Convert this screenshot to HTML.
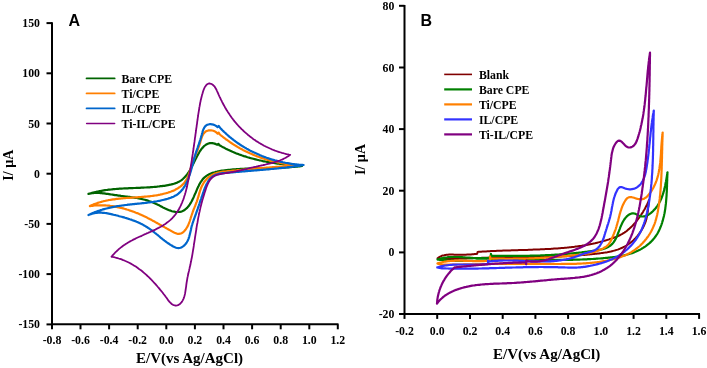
<!DOCTYPE html><html><head><meta charset="utf-8"><style>html,body{margin:0;padding:0;background:#fff;}svg{display:block;will-change:transform;filter:blur(0.3px);}</style></head><body>
<svg width="707" height="368" viewBox="0 0 707 368">
<rect width="707" height="368" fill="#fff"/>
<g stroke="#000" stroke-width="2" fill="none" stroke-linecap="butt">
<line x1="52.0" y1="22.3" x2="52.0" y2="325.35"/>
<line x1="51.0" y1="324.35" x2="338.5" y2="324.35"/>
<line x1="46.5" y1="23.1" x2="52.0" y2="23.1"/>
<line x1="46.5" y1="73.3" x2="52.0" y2="73.3"/>
<line x1="46.5" y1="123.5" x2="52.0" y2="123.5"/>
<line x1="46.5" y1="173.7" x2="52.0" y2="173.7"/>
<line x1="46.5" y1="223.9" x2="52.0" y2="223.9"/>
<line x1="46.5" y1="274.1" x2="52.0" y2="274.1"/>
<line x1="46.5" y1="324.4" x2="52.0" y2="324.4"/>
<line x1="52.0" y1="324.35" x2="52.0" y2="329.3"/>
<line x1="80.5" y1="324.35" x2="80.5" y2="329.3"/>
<line x1="109.1" y1="324.35" x2="109.1" y2="329.3"/>
<line x1="137.7" y1="324.35" x2="137.7" y2="329.3"/>
<line x1="166.3" y1="324.35" x2="166.3" y2="329.3"/>
<line x1="194.9" y1="324.35" x2="194.9" y2="329.3"/>
<line x1="223.5" y1="324.35" x2="223.5" y2="329.3"/>
<line x1="252.1" y1="324.35" x2="252.1" y2="329.3"/>
<line x1="280.7" y1="324.35" x2="280.7" y2="329.3"/>
<line x1="309.3" y1="324.35" x2="309.3" y2="329.3"/>
<line x1="337.8" y1="324.35" x2="337.8" y2="329.3"/>
</g>
<g font-family='"Liberation Serif", serif' font-weight="bold" font-size="11.8" fill="#000">
<text x="40" y="27.1" text-anchor="end">150</text>
<text x="40" y="77.3" text-anchor="end">100</text>
<text x="40" y="127.5" text-anchor="end">50</text>
<text x="40" y="177.7" text-anchor="end">0</text>
<text x="40" y="227.9" text-anchor="end">-50</text>
<text x="40" y="278.1" text-anchor="end">-100</text>
<text x="40" y="328.4" text-anchor="end">-150</text>
<text x="52.0" y="343.7" text-anchor="middle">-0.8</text>
<text x="80.5" y="343.7" text-anchor="middle">-0.6</text>
<text x="109.1" y="343.7" text-anchor="middle">-0.4</text>
<text x="137.7" y="343.7" text-anchor="middle">-0.2</text>
<text x="166.3" y="343.7" text-anchor="middle">0.0</text>
<text x="194.9" y="343.7" text-anchor="middle">0.2</text>
<text x="223.5" y="343.7" text-anchor="middle">0.4</text>
<text x="252.1" y="343.7" text-anchor="middle">0.6</text>
<text x="280.7" y="343.7" text-anchor="middle">0.8</text>
<text x="309.3" y="343.7" text-anchor="middle">1.0</text>
<text x="337.8" y="343.7" text-anchor="middle">1.2</text>
</g>
<text x="189.5" y="363.3" text-anchor="middle" font-family='"Liberation Serif", serif' font-weight="bold" font-size="15">E/V(vs Ag/AgCl)</text>
<text transform="translate(13.2,165.2) rotate(-90)" text-anchor="middle" font-family='"Liberation Serif", serif' font-weight="bold" font-size="14">I/ µA</text>
<text x="68.6" y="25.7" font-family='"Liberation Sans", sans-serif' font-weight="bold" font-size="16">A</text>
<line x1="86.6" y1="78.4" x2="114.6" y2="78.4" stroke="#006400" stroke-width="1.9" stroke-linecap="round"/>
<text x="121.5" y="82.6" font-family='"Liberation Serif", serif' font-weight="bold" font-size="11.8">Bare CPE</text>
<line x1="86.6" y1="93.4" x2="114.6" y2="93.4" stroke="#ff7f00" stroke-width="1.9" stroke-linecap="round"/>
<text x="121.5" y="97.6" font-family='"Liberation Serif", serif' font-weight="bold" font-size="11.8">Ti/CPE</text>
<line x1="86.6" y1="108.4" x2="114.6" y2="108.4" stroke="#0066cc" stroke-width="1.9" stroke-linecap="round"/>
<text x="121.5" y="112.6" font-family='"Liberation Serif", serif' font-weight="bold" font-size="11.8">IL/CPE</text>
<line x1="86.6" y1="123.4" x2="114.6" y2="123.4" stroke="#800080" stroke-width="1.5" stroke-linecap="round"/>
<text x="121.5" y="127.6" font-family='"Liberation Serif", serif' font-weight="bold" font-size="11.8">Ti-IL/CPE</text>
<path d="M88.5,193.9 L89.7,193.5 L90.8,193.2 L92.0,192.9 L93.2,192.6 L94.3,192.3 L95.5,192.0 L96.7,191.7 L97.9,191.5 L99.1,191.2 L100.2,191.0 L101.4,190.8 L102.6,190.6 L103.8,190.4 L105.0,190.2 L106.2,190.0 L107.4,189.9 L108.6,189.7 L109.8,189.6 L111.0,189.5 L112.2,189.3 L113.3,189.2 L114.5,189.1 L115.8,189.0 L117.0,188.9 L118.2,188.8 L119.4,188.7 L120.6,188.7 L121.8,188.6 L123.0,188.5 L124.2,188.4 L125.4,188.4 L126.6,188.3 L127.8,188.3 L129.0,188.2 L130.2,188.2 L131.5,188.1 L132.7,188.1 L133.9,188.0 L135.1,188.0 L136.3,187.9 L137.5,187.9 L138.7,187.8 L140.0,187.8 L141.2,187.7 L142.4,187.7 L143.6,187.6 L144.8,187.5 L146.0,187.5 L147.3,187.4 L148.5,187.3 L149.7,187.3 L150.9,187.2 L152.1,187.1 L153.4,187.0 L154.6,186.9 L155.8,186.8 L157.0,186.7 L158.2,186.5 L159.4,186.4 L160.6,186.2 L161.9,186.1 L163.1,185.9 L164.3,185.8 L165.5,185.6 L166.7,185.4 L167.9,185.2 L169.1,184.9 L170.3,184.7 L171.5,184.4 L172.7,184.1 L173.8,183.8 L175.0,183.4 L176.1,183.0 L177.2,182.6 L178.2,182.1 L179.3,181.5 L180.3,180.9 L181.2,180.3 L182.2,179.6 L183.1,178.8 L183.9,178.0 L184.8,177.1 L185.6,176.2 L186.4,175.3 L187.1,174.4 L187.8,173.4 L188.5,172.4 L189.2,171.3 L189.9,170.3 L190.5,169.2 L191.1,168.1 L191.7,167.0 L192.2,165.9 L192.8,164.8 L193.3,163.7 L193.9,162.6 L194.4,161.5 L195.0,160.4 L195.5,159.3 L196.1,158.2 L196.6,157.1 L197.2,156.0 L197.8,154.9 L198.3,153.9 L199.0,152.8 L199.6,151.8 L200.2,150.8 L200.9,149.8 L201.6,148.9 L202.4,147.9 L203.2,147.1 L204.0,146.2 L204.9,145.5 L205.8,144.8 L206.8,144.3 L207.8,143.8 L208.8,143.4 L209.9,143.2 L211.0,143.1 L212.2,143.1 L213.4,143.3 L214.6,143.6 L215.9,144.1 L217.2,144.8 L218.3,143.8 L219.4,145.2 L220.5,145.8 L221.5,146.4 L222.6,147.0 L223.7,147.6 L224.8,148.1 L225.9,148.7 L227.0,149.2 L228.1,149.8 L229.2,150.3 L230.3,150.8 L231.4,151.3 L232.5,151.8 L233.6,152.2 L234.8,152.7 L235.9,153.2 L237.0,153.6 L238.2,154.0 L239.3,154.5 L240.5,154.9 L241.6,155.3 L242.8,155.7 L243.9,156.1 L245.1,156.4 L246.3,156.8 L247.4,157.2 L248.6,157.5 L249.8,157.9 L251.0,158.2 L252.2,158.5 L253.3,158.8 L254.5,159.1 L255.7,159.4 L256.9,159.7 L258.1,160.0 L259.3,160.3 L260.5,160.5 L261.7,160.8 L262.9,161.1 L264.1,161.3 L265.3,161.5 L266.6,161.8 L267.8,162.0 L269.0,162.2 L270.2,162.4 L271.4,162.6 L272.6,162.8 L273.9,163.0 L275.1,163.2 L276.3,163.4 L277.5,163.6 L278.7,163.7 L280.0,163.9 L281.2,164.0 L282.4,164.2 L283.6,164.3 L284.9,164.5 L286.1,164.6 L287.3,164.7 L288.5,164.9 L289.8,165.0 L291.0,165.1 L292.2,165.2 L293.4,165.3 L294.7,165.4 L295.9,165.5 L297.1,165.6 L298.3,165.7 L299.6,165.8 L300.8,165.9 L302.0,166.0 L300.8,166.2 L299.6,166.3 L298.3,166.4 L297.1,166.6 L295.9,166.7 L294.7,166.8 L293.5,166.9 L292.2,167.0 L291.0,167.1 L289.8,167.2 L288.6,167.3 L287.4,167.4 L286.2,167.5 L285.0,167.6 L283.8,167.6 L282.6,167.7 L281.4,167.7 L280.2,167.8 L279.0,167.8 L277.8,167.9 L276.6,167.9 L275.4,168.0 L274.2,168.0 L273.0,168.0 L271.8,168.1 L270.6,168.1 L269.4,168.1 L268.1,168.2 L266.9,168.2 L265.7,168.2 L264.5,168.2 L263.3,168.2 L262.1,168.3 L260.9,168.3 L259.7,168.3 L258.5,168.3 L257.3,168.4 L256.1,168.4 L254.9,168.4 L253.7,168.4 L252.5,168.5 L251.3,168.5 L250.1,168.5 L248.9,168.6 L247.7,168.6 L246.5,168.7 L245.2,168.7 L244.0,168.8 L242.8,168.8 L241.6,168.9 L240.4,168.9 L239.2,169.0 L237.9,169.1 L236.7,169.2 L235.5,169.3 L234.3,169.3 L233.0,169.4 L231.8,169.5 L230.6,169.7 L229.3,169.8 L228.1,169.9 L226.9,170.0 L225.6,170.2 L224.4,170.3 L223.2,170.5 L221.9,170.7 L220.7,170.9 L219.5,171.1 L218.3,171.3 L217.1,171.6 L215.9,171.8 L214.8,172.2 L213.6,172.5 L212.5,172.9 L211.4,173.3 L210.3,173.7 L209.3,174.2 L208.3,174.8 L207.3,175.3 L206.4,176.0 L205.5,176.6 L204.6,177.3 L203.8,178.1 L203.0,178.9 L202.3,179.8 L201.6,180.8 L201.0,181.7 L200.3,182.7 L199.7,183.8 L199.1,184.9 L198.6,186.0 L198.0,187.1 L197.5,188.2 L197.0,189.4 L196.5,190.6 L196.0,191.8 L195.5,193.0 L194.9,194.2 L194.4,195.4 L193.9,196.6 L193.4,197.7 L192.8,198.9 L192.3,200.1 L191.7,201.2 L191.1,202.3 L190.4,203.4 L189.8,204.4 L189.1,205.5 L188.3,206.4 L187.6,207.3 L186.8,208.2 L185.9,208.9 L185.0,209.6 L184.1,210.3 L183.2,210.8 L182.2,211.2 L181.1,211.6 L180.0,211.8 L178.9,212.0 L177.7,212.0 L176.5,212.0 L175.4,211.9 L174.2,211.7 L173.1,211.5 L171.9,211.2 L170.8,210.8 L169.7,210.4 L168.5,210.0 L167.4,209.5 L166.3,209.0 L165.2,208.5 L164.1,207.9 L162.9,207.4 L161.8,206.8 L160.7,206.2 L159.6,205.6 L158.5,205.1 L157.4,204.5 L156.2,204.0 L155.1,203.4 L154.0,202.9 L152.8,202.5 L151.7,202.0 L150.6,201.6 L149.4,201.2 L148.3,200.8 L147.1,200.4 L146.0,200.1 L144.8,199.8 L143.6,199.5 L142.5,199.2 L141.3,198.9 L140.1,198.7 L138.9,198.5 L137.8,198.2 L136.6,198.0 L135.4,197.8 L134.2,197.6 L133.0,197.5 L131.8,197.3 L130.6,197.1 L129.4,196.9 L128.2,196.8 L127.0,196.6 L125.8,196.5 L124.6,196.3 L123.4,196.2 L122.2,196.0 L121.0,195.9 L119.8,195.7 L118.6,195.6 L117.4,195.4 L116.2,195.2 L115.0,195.1 L113.8,194.9 L112.6,194.7 L111.4,194.5 L110.2,194.3 L109.0,194.1 L107.8,193.9 L106.6,193.8 L105.4,193.6 L104.1,193.4 L102.9,193.3 L101.7,193.2 L100.5,193.1 L99.3,193.0 L98.1,193.0 L96.9,193.0 L95.7,193.0 L94.5,193.0 L93.3,193.1 L92.1,193.2 L90.9,193.4 L89.7,193.6 L88.5,193.9" fill="none" stroke="#006400" stroke-width="2.2" stroke-linejoin="round" stroke-linecap="round"/>
<path d="M89.9,206.1 L91.0,205.6 L92.1,205.1 L93.3,204.6 L94.4,204.1 L95.5,203.7 L96.7,203.3 L97.8,202.9 L98.9,202.5 L100.1,202.2 L101.3,201.9 L102.4,201.5 L103.6,201.2 L104.7,201.0 L105.9,200.7 L107.1,200.5 L108.3,200.2 L109.5,200.0 L110.6,199.8 L111.8,199.6 L113.0,199.4 L114.2,199.3 L115.4,199.1 L116.6,198.9 L117.8,198.8 L119.0,198.7 L120.2,198.6 L121.4,198.4 L122.6,198.3 L123.8,198.2 L125.1,198.1 L126.3,198.0 L127.5,197.9 L128.7,197.9 L129.9,197.8 L131.1,197.7 L132.3,197.6 L133.6,197.5 L134.8,197.5 L136.0,197.4 L137.2,197.3 L138.4,197.2 L139.6,197.1 L140.9,197.0 L142.1,196.9 L143.3,196.8 L144.5,196.7 L145.7,196.6 L146.9,196.5 L148.1,196.4 L149.3,196.3 L150.5,196.1 L151.7,196.0 L152.9,195.8 L154.1,195.6 L155.3,195.5 L156.5,195.3 L157.7,195.1 L158.9,194.8 L160.1,194.6 L161.3,194.3 L162.5,194.1 L163.6,193.8 L164.8,193.5 L166.0,193.2 L167.1,192.9 L168.3,192.5 L169.4,192.1 L170.6,191.7 L171.7,191.3 L172.8,190.9 L173.9,190.4 L175.0,189.9 L176.0,189.3 L177.0,188.8 L178.0,188.2 L179.0,187.5 L180.0,186.9 L180.9,186.2 L181.8,185.4 L182.6,184.6 L183.4,183.8 L184.2,182.9 L184.9,182.0 L185.6,181.0 L186.2,180.0 L186.8,179.0 L187.4,177.9 L187.9,176.7 L188.4,175.6 L188.8,174.4 L189.2,173.2 L189.7,171.9 L190.0,170.7 L190.4,169.5 L190.8,168.2 L191.2,167.0 L191.5,165.8 L191.9,164.6 L192.3,163.4 L192.7,162.3 L193.1,161.1 L193.6,160.0 L194.0,158.9 L194.4,157.8 L194.9,156.8 L195.3,155.7 L195.7,154.6 L196.2,153.6 L196.6,152.5 L197.1,151.4 L197.5,150.4 L197.9,149.3 L198.3,148.1 L198.7,147.0 L199.1,145.9 L199.5,144.7 L199.9,143.5 L200.3,142.2 L200.6,141.0 L201.0,139.7 L201.4,138.5 L201.8,137.3 L202.2,136.1 L202.8,135.0 L203.3,134.0 L204.0,133.1 L204.8,132.3 L205.6,131.6 L206.6,131.1 L207.6,130.7 L208.7,130.4 L209.8,130.3 L211.0,130.3 L212.2,130.5 L213.3,130.8 L214.5,131.3 L215.6,131.9 L216.6,132.7 L217.6,133.6 L218.6,132.6 L219.6,134.2 L220.5,135.0 L221.5,135.8 L222.4,136.5 L223.4,137.3 L224.4,138.0 L225.3,138.8 L226.3,139.5 L227.3,140.2 L228.3,140.9 L229.3,141.6 L230.3,142.3 L231.3,143.0 L232.3,143.7 L233.4,144.4 L234.4,145.0 L235.4,145.6 L236.5,146.3 L237.5,146.9 L238.6,147.5 L239.6,148.1 L240.7,148.7 L241.8,149.3 L242.9,149.9 L243.9,150.4 L245.0,151.0 L246.1,151.5 L247.2,152.1 L248.3,152.6 L249.4,153.1 L250.5,153.6 L251.7,154.1 L252.8,154.6 L253.9,155.0 L255.0,155.5 L256.2,155.9 L257.3,156.4 L258.4,156.8 L259.6,157.2 L260.7,157.6 L261.9,158.0 L263.0,158.4 L264.2,158.8 L265.4,159.2 L266.5,159.5 L267.7,159.9 L268.9,160.2 L270.0,160.6 L271.2,160.9 L272.4,161.2 L273.6,161.5 L274.8,161.8 L276.0,162.0 L277.2,162.3 L278.4,162.5 L279.6,162.8 L280.8,163.0 L282.0,163.2 L283.2,163.4 L284.4,163.6 L285.6,163.8 L286.8,164.0 L288.0,164.2 L289.2,164.3 L290.4,164.5 L291.7,164.6 L292.9,164.7 L294.1,164.9 L295.3,165.0 L296.6,165.0 L297.8,165.1 L299.0,165.2 L297.8,165.3 L296.6,165.4 L295.4,165.5 L294.2,165.6 L293.0,165.7 L291.8,165.8 L290.6,165.9 L289.4,166.0 L288.2,166.0 L287.0,166.1 L285.8,166.2 L284.6,166.3 L283.4,166.4 L282.2,166.5 L281.0,166.6 L279.8,166.7 L278.5,166.8 L277.3,166.9 L276.1,166.9 L274.9,167.0 L273.7,167.1 L272.5,167.2 L271.3,167.3 L270.1,167.4 L268.9,167.5 L267.7,167.6 L266.5,167.7 L265.3,167.8 L264.1,167.9 L262.9,168.0 L261.7,168.1 L260.5,168.2 L259.3,168.3 L258.1,168.4 L256.9,168.5 L255.7,168.6 L254.5,168.7 L253.3,168.8 L252.1,168.9 L250.9,169.0 L249.7,169.1 L248.5,169.2 L247.3,169.3 L246.1,169.4 L244.9,169.5 L243.7,169.6 L242.5,169.8 L241.3,169.9 L240.1,170.0 L238.9,170.1 L237.7,170.2 L236.5,170.4 L235.3,170.5 L234.1,170.6 L232.9,170.7 L231.7,170.8 L230.5,171.0 L229.3,171.1 L228.0,171.2 L226.8,171.3 L225.6,171.5 L224.4,171.6 L223.2,171.7 L222.0,171.9 L220.8,172.1 L219.6,172.3 L218.4,172.6 L217.3,172.9 L216.1,173.2 L215.0,173.6 L213.9,174.0 L212.8,174.6 L211.8,175.1 L210.8,175.7 L209.8,176.4 L208.8,177.2 L207.9,177.9 L207.0,178.8 L206.2,179.6 L205.4,180.6 L204.6,181.5 L203.9,182.5 L203.3,183.5 L202.7,184.6 L202.1,185.6 L201.6,186.7 L201.1,187.8 L200.7,189.0 L200.3,190.1 L199.9,191.2 L199.6,192.4 L199.2,193.6 L198.9,194.7 L198.6,195.9 L198.2,197.1 L197.9,198.2 L197.5,199.4 L197.1,200.5 L196.8,201.6 L196.3,202.7 L195.9,203.8 L195.5,204.9 L195.1,206.0 L194.6,207.1 L194.2,208.2 L193.7,209.3 L193.3,210.4 L192.9,211.5 L192.5,212.7 L192.1,213.8 L191.7,215.0 L191.3,216.2 L190.9,217.3 L190.6,218.5 L190.2,219.7 L189.8,221.0 L189.4,222.2 L188.9,223.4 L188.4,224.6 L187.9,225.8 L187.3,226.9 L186.6,228.0 L185.9,229.1 L185.2,230.1 L184.4,231.0 L183.6,231.8 L182.8,232.5 L181.9,233.0 L180.9,233.5 L180.0,233.7 L178.9,233.9 L177.9,233.8 L176.8,233.6 L175.8,233.2 L174.6,232.7 L173.5,232.2 L172.4,231.6 L171.3,231.0 L170.2,230.4 L169.1,229.8 L168.1,229.2 L167.0,228.6 L165.9,228.0 L164.8,227.4 L163.8,226.8 L162.7,226.2 L161.7,225.6 L160.6,225.0 L159.6,224.5 L158.6,223.9 L157.5,223.3 L156.5,222.7 L155.4,222.1 L154.4,221.5 L153.3,220.9 L152.3,220.4 L151.2,219.8 L150.2,219.3 L149.1,218.7 L148.1,218.2 L147.0,217.6 L145.9,217.1 L144.8,216.6 L143.7,216.0 L142.6,215.5 L141.5,215.0 L140.4,214.5 L139.3,214.1 L138.2,213.6 L137.1,213.1 L136.0,212.7 L134.8,212.2 L133.7,211.8 L132.5,211.4 L131.4,211.0 L130.2,210.6 L129.1,210.2 L127.9,209.8 L126.8,209.5 L125.6,209.1 L124.4,208.8 L123.2,208.4 L122.1,208.1 L120.9,207.8 L119.7,207.6 L118.5,207.3 L117.3,207.1 L116.2,206.8 L115.0,206.6 L113.8,206.4 L112.6,206.2 L111.4,206.0 L110.2,205.9 L109.0,205.7 L107.8,205.6 L106.6,205.5 L105.4,205.4 L104.2,205.4 L103.0,205.3 L101.8,205.3 L100.6,205.3 L99.4,205.3 L98.2,205.3 L97.0,205.4 L95.8,205.4 L94.6,205.5 L93.5,205.6 L92.3,205.8 L91.1,205.9 L89.9,206.1" fill="none" stroke="#ff7f00" stroke-width="2.2" stroke-linejoin="round" stroke-linecap="round"/>
<path d="M88.5,215.0 L89.6,214.5 L90.6,214.0 L91.7,213.5 L92.8,213.0 L93.9,212.6 L95.1,212.1 L96.2,211.7 L97.3,211.3 L98.4,210.9 L99.6,210.5 L100.7,210.1 L101.9,209.8 L103.0,209.4 L104.2,209.1 L105.4,208.8 L106.6,208.5 L107.7,208.2 L108.9,207.9 L110.1,207.6 L111.3,207.4 L112.5,207.1 L113.7,206.9 L114.9,206.7 L116.1,206.4 L117.3,206.2 L118.5,206.0 L119.7,205.8 L120.9,205.7 L122.1,205.5 L123.3,205.3 L124.5,205.2 L125.7,205.0 L126.9,204.9 L128.1,204.7 L129.3,204.6 L130.5,204.4 L131.7,204.3 L132.9,204.2 L134.1,204.1 L135.3,203.9 L136.5,203.8 L137.7,203.7 L138.9,203.6 L140.1,203.5 L141.3,203.3 L142.5,203.2 L143.7,203.1 L144.9,203.0 L146.1,202.8 L147.3,202.7 L148.5,202.5 L149.7,202.4 L150.9,202.2 L152.1,202.0 L153.3,201.9 L154.5,201.7 L155.6,201.5 L156.8,201.3 L158.0,201.0 L159.2,200.8 L160.4,200.6 L161.6,200.3 L162.8,200.0 L164.0,199.7 L165.3,199.4 L166.5,199.1 L167.7,198.8 L168.8,198.4 L170.0,198.0 L171.2,197.6 L172.3,197.1 L173.4,196.7 L174.5,196.1 L175.5,195.6 L176.5,195.0 L177.5,194.3 L178.4,193.6 L179.2,192.9 L180.1,192.1 L180.9,191.3 L181.6,190.4 L182.4,189.6 L183.1,188.6 L183.7,187.7 L184.4,186.7 L185.0,185.7 L185.5,184.7 L186.1,183.6 L186.6,182.6 L187.1,181.5 L187.6,180.4 L188.1,179.2 L188.5,178.1 L188.9,176.9 L189.4,175.7 L189.8,174.6 L190.1,173.4 L190.5,172.2 L190.9,170.9 L191.2,169.7 L191.5,168.5 L191.9,167.3 L192.2,166.1 L192.5,164.8 L192.9,163.6 L193.2,162.4 L193.5,161.2 L193.8,160.0 L194.1,158.8 L194.5,157.7 L194.8,156.5 L195.1,155.3 L195.5,154.2 L195.8,153.1 L196.2,152.0 L196.5,150.9 L196.9,149.8 L197.3,148.7 L197.7,147.6 L198.0,146.5 L198.4,145.4 L198.8,144.3 L199.2,143.2 L199.5,142.1 L199.9,141.0 L200.3,139.8 L200.6,138.7 L201.0,137.5 L201.3,136.3 L201.7,135.1 L202.0,133.8 L202.4,132.6 L202.7,131.3 L203.1,130.1 L203.6,128.9 L204.1,127.9 L204.8,126.9 L205.5,126.0 L206.3,125.4 L207.3,124.8 L208.4,124.5 L209.5,124.2 L210.7,124.2 L211.9,124.3 L213.2,124.6 L214.4,125.0 L215.5,125.6 L216.6,126.3 L217.5,127.1 L218.7,126.0 L219.9,127.6 L220.7,128.5 L221.6,129.4 L222.4,130.3 L223.3,131.1 L224.2,132.0 L225.1,132.8 L226.0,133.6 L226.9,134.5 L227.8,135.3 L228.7,136.1 L229.6,136.9 L230.6,137.6 L231.5,138.4 L232.5,139.2 L233.4,139.9 L234.4,140.6 L235.4,141.4 L236.4,142.1 L237.4,142.8 L238.4,143.5 L239.4,144.2 L240.4,144.8 L241.4,145.5 L242.4,146.1 L243.5,146.8 L244.5,147.4 L245.6,148.0 L246.6,148.6 L247.7,149.2 L248.7,149.8 L249.8,150.4 L250.9,150.9 L252.0,151.5 L253.1,152.0 L254.2,152.6 L255.3,153.1 L256.4,153.6 L257.5,154.1 L258.6,154.6 L259.7,155.1 L260.8,155.5 L262.0,156.0 L263.1,156.4 L264.3,156.9 L265.4,157.3 L266.5,157.7 L267.7,158.1 L268.9,158.5 L270.0,158.9 L271.2,159.2 L272.4,159.6 L273.5,159.9 L274.7,160.3 L275.9,160.6 L277.1,160.9 L278.2,161.2 L279.4,161.5 L280.6,161.8 L281.8,162.0 L283.0,162.3 L284.2,162.5 L285.4,162.8 L286.6,163.0 L287.8,163.2 L289.0,163.4 L290.2,163.6 L291.4,163.8 L292.7,164.0 L293.9,164.1 L295.1,164.3 L296.3,164.4 L297.5,164.5 L298.7,164.7 L299.9,164.8 L301.2,164.8 L302.4,164.9 L303.6,165.0 L302.4,165.2 L301.2,165.4 L300.0,165.6 L298.9,165.8 L297.7,165.9 L296.5,166.1 L295.3,166.3 L294.1,166.5 L292.9,166.6 L291.7,166.8 L290.5,166.9 L289.3,167.1 L288.1,167.2 L286.9,167.4 L285.7,167.5 L284.5,167.7 L283.3,167.8 L282.0,167.9 L280.8,168.1 L279.6,168.2 L278.4,168.3 L277.2,168.5 L276.0,168.6 L274.8,168.7 L273.6,168.8 L272.4,168.9 L271.1,169.0 L269.9,169.2 L268.7,169.3 L267.5,169.4 L266.3,169.5 L265.1,169.6 L263.9,169.7 L262.7,169.8 L261.5,169.9 L260.3,170.0 L259.1,170.1 L257.9,170.2 L256.7,170.3 L255.5,170.4 L254.3,170.5 L253.1,170.6 L251.9,170.7 L250.7,170.8 L249.5,170.9 L248.3,171.0 L247.1,171.1 L245.9,171.2 L244.8,171.3 L243.6,171.4 L242.4,171.5 L241.2,171.6 L240.0,171.7 L238.8,171.8 L237.6,171.9 L236.4,172.0 L235.2,172.1 L234.0,172.2 L232.7,172.3 L231.5,172.4 L230.3,172.5 L229.0,172.6 L227.8,172.7 L226.5,172.8 L225.2,173.0 L223.9,173.1 L222.7,173.2 L221.4,173.4 L220.2,173.6 L219.0,173.9 L217.8,174.2 L216.6,174.5 L215.5,174.9 L214.4,175.4 L213.4,175.9 L212.5,176.6 L211.6,177.3 L210.8,178.0 L210.0,178.8 L209.3,179.7 L208.6,180.7 L208.0,181.6 L207.4,182.7 L206.8,183.7 L206.2,184.8 L205.7,186.0 L205.2,187.1 L204.8,188.3 L204.3,189.4 L203.9,190.6 L203.5,191.8 L203.1,193.0 L202.7,194.1 L202.3,195.3 L201.9,196.5 L201.5,197.6 L201.1,198.8 L200.7,199.9 L200.3,201.0 L199.9,202.2 L199.6,203.3 L199.2,204.4 L198.8,205.6 L198.4,206.7 L198.0,207.8 L197.7,208.9 L197.3,210.0 L196.9,211.1 L196.5,212.2 L196.1,213.4 L195.7,214.5 L195.3,215.6 L194.9,216.7 L194.5,217.8 L194.1,218.9 L193.7,220.0 L193.3,221.2 L192.9,222.3 L192.5,223.5 L192.2,224.6 L191.8,225.8 L191.5,227.0 L191.2,228.2 L191.0,229.5 L190.7,230.7 L190.4,232.0 L190.1,233.2 L189.8,234.4 L189.5,235.6 L189.2,236.8 L188.8,238.0 L188.4,239.1 L187.9,240.2 L187.4,241.3 L186.8,242.3 L186.1,243.3 L185.4,244.2 L184.6,245.1 L183.7,245.9 L182.7,246.6 L181.7,247.2 L180.6,247.7 L179.5,248.0 L178.4,248.1 L177.2,248.0 L176.1,247.7 L175.0,247.3 L173.9,246.8 L172.8,246.2 L171.7,245.5 L170.6,244.9 L169.5,244.2 L168.5,243.5 L167.5,242.8 L166.5,242.1 L165.5,241.3 L164.5,240.6 L163.5,239.8 L162.5,239.1 L161.6,238.3 L160.6,237.6 L159.7,236.8 L158.8,236.0 L157.8,235.2 L156.9,234.5 L155.9,233.7 L155.0,233.0 L154.1,232.2 L153.1,231.5 L152.2,230.7 L151.2,230.0 L150.3,229.3 L149.3,228.6 L148.3,228.0 L147.3,227.3 L146.3,226.7 L145.3,226.1 L144.2,225.5 L143.2,224.9 L142.1,224.3 L141.0,223.8 L140.0,223.3 L138.9,222.8 L137.8,222.3 L136.6,221.8 L135.5,221.3 L134.4,220.9 L133.3,220.5 L132.1,220.1 L131.0,219.6 L129.8,219.3 L128.6,218.9 L127.5,218.5 L126.3,218.1 L125.1,217.8 L124.0,217.4 L122.8,217.1 L121.6,216.8 L120.4,216.5 L119.2,216.2 L118.1,215.8 L116.9,215.5 L115.7,215.2 L114.5,215.0 L113.3,214.7 L112.2,214.4 L111.0,214.1 L109.8,213.8 L108.7,213.6 L107.5,213.4 L106.3,213.2 L105.2,213.0 L104.0,212.9 L102.8,212.8 L101.6,212.7 L100.5,212.6 L99.3,212.6 L98.1,212.7 L96.9,212.8 L95.7,212.9 L94.5,213.1 L93.3,213.4 L92.1,213.7 L90.9,214.1 L89.7,214.5 L88.5,215.0" fill="none" stroke="#0066cc" stroke-width="2.2" stroke-linejoin="round" stroke-linecap="round"/>
<path d="M111.5,256.7 L112.3,255.7 L113.1,254.8 L114.0,253.9 L114.8,253.0 L115.6,252.1 L116.5,251.3 L117.4,250.5 L118.3,249.7 L119.1,248.9 L120.1,248.1 L121.0,247.4 L121.9,246.7 L122.8,246.0 L123.8,245.3 L124.7,244.7 L125.7,244.0 L126.7,243.4 L127.7,242.8 L128.7,242.2 L129.7,241.6 L130.8,241.0 L131.8,240.5 L132.8,239.9 L133.9,239.4 L135.0,238.9 L136.1,238.3 L137.2,237.8 L138.3,237.3 L139.4,236.8 L140.5,236.3 L141.7,235.8 L142.8,235.2 L143.9,234.7 L145.1,234.2 L146.2,233.7 L147.4,233.2 L148.5,232.7 L149.7,232.2 L150.8,231.7 L152.0,231.2 L153.1,230.6 L154.2,230.1 L155.3,229.6 L156.4,229.0 L157.5,228.4 L158.6,227.9 L159.7,227.3 L160.8,226.7 L161.8,226.1 L162.9,225.5 L163.9,224.8 L164.9,224.2 L165.9,223.5 L166.8,222.8 L167.8,222.1 L168.7,221.4 L169.6,220.6 L170.5,219.9 L171.3,219.1 L172.1,218.3 L172.9,217.4 L173.7,216.6 L174.4,215.7 L175.2,214.8 L175.9,213.9 L176.5,212.9 L177.2,212.0 L177.8,211.0 L178.4,210.0 L179.0,209.0 L179.5,208.0 L180.1,206.9 L180.6,205.9 L181.1,204.8 L181.6,203.7 L182.1,202.6 L182.5,201.5 L182.9,200.4 L183.4,199.3 L183.8,198.1 L184.1,197.0 L184.5,195.8 L184.9,194.7 L185.2,193.5 L185.6,192.3 L185.9,191.1 L186.2,189.9 L186.5,188.7 L186.8,187.5 L187.1,186.3 L187.3,185.1 L187.6,183.9 L187.8,182.6 L188.1,181.4 L188.3,180.2 L188.6,179.0 L188.8,177.8 L189.0,176.5 L189.3,175.3 L189.5,174.1 L189.7,172.9 L189.9,171.7 L190.1,170.5 L190.3,169.3 L190.5,168.0 L190.7,166.8 L190.9,165.6 L191.1,164.4 L191.3,163.3 L191.5,162.1 L191.7,160.9 L191.9,159.7 L192.0,158.5 L192.2,157.3 L192.4,156.1 L192.6,154.9 L192.8,153.7 L192.9,152.6 L193.1,151.4 L193.3,150.2 L193.5,149.0 L193.6,147.8 L193.8,146.7 L194.0,145.5 L194.1,144.3 L194.3,143.1 L194.5,141.9 L194.6,140.8 L194.8,139.6 L194.9,138.4 L195.1,137.2 L195.3,136.1 L195.4,134.9 L195.6,133.7 L195.8,132.5 L195.9,131.4 L196.1,130.2 L196.2,129.0 L196.4,127.8 L196.6,126.6 L196.7,125.5 L196.9,124.3 L197.1,123.1 L197.2,121.9 L197.4,120.7 L197.6,119.5 L197.7,118.3 L197.9,117.2 L198.1,116.0 L198.2,114.8 L198.4,113.6 L198.6,112.4 L198.8,111.2 L199.0,110.0 L199.2,108.8 L199.3,107.6 L199.6,106.4 L199.8,105.2 L200.0,104.0 L200.2,102.8 L200.5,101.6 L200.7,100.4 L201.0,99.2 L201.3,98.0 L201.6,96.8 L201.9,95.6 L202.2,94.4 L202.6,93.2 L202.9,92.0 L203.3,90.8 L203.7,89.7 L204.2,88.5 L204.7,87.4 L205.3,86.4 L206.0,85.4 L206.8,84.6 L207.7,84.0 L208.8,83.5 L209.9,83.5 L211.0,83.8 L212.0,84.3 L213.0,85.0 L213.9,85.8 L214.7,86.7 L215.3,87.7 L215.9,88.7 L216.5,89.8 L217.0,91.0 L217.5,92.1 L218.0,93.2 L218.5,94.4 L219.0,95.5 L219.5,96.6 L220.1,97.7 L220.6,98.8 L221.1,99.9 L221.7,101.0 L222.2,102.1 L222.8,103.2 L223.3,104.3 L223.9,105.3 L224.5,106.4 L225.1,107.5 L225.7,108.5 L226.3,109.5 L226.9,110.6 L227.6,111.6 L228.2,112.6 L228.9,113.6 L229.6,114.6 L230.2,115.6 L230.9,116.6 L231.6,117.6 L232.4,118.5 L233.1,119.5 L233.8,120.4 L234.6,121.4 L235.4,122.3 L236.1,123.2 L236.9,124.1 L237.7,125.0 L238.5,125.9 L239.4,126.8 L240.2,127.6 L241.0,128.5 L241.9,129.4 L242.8,130.2 L243.6,131.0 L244.5,131.8 L245.4,132.6 L246.3,133.4 L247.2,134.2 L248.1,135.0 L249.1,135.7 L250.0,136.5 L251.0,137.2 L251.9,137.9 L252.9,138.7 L253.9,139.4 L254.9,140.0 L255.8,140.7 L256.8,141.4 L257.9,142.0 L258.9,142.7 L259.9,143.3 L260.9,143.9 L262.0,144.5 L263.0,145.1 L264.1,145.7 L265.2,146.2 L266.2,146.8 L267.3,147.3 L268.4,147.8 L269.5,148.3 L270.6,148.8 L271.7,149.3 L272.8,149.7 L273.9,150.2 L275.0,150.6 L276.2,151.0 L277.3,151.4 L278.5,151.8 L279.6,152.2 L280.8,152.5 L281.9,152.9 L283.1,153.2 L284.3,153.5 L285.4,153.8 L286.6,154.1 L287.8,154.3 L289.0,154.6 L290.2,154.8 L289.2,155.5 L288.2,156.2 L287.2,156.8 L286.2,157.4 L285.2,158.0 L284.1,158.5 L283.0,159.1 L282.0,159.6 L280.9,160.0 L279.7,160.5 L278.6,160.9 L277.5,161.3 L276.3,161.7 L275.2,162.0 L274.0,162.4 L272.9,162.7 L271.7,163.1 L270.5,163.4 L269.3,163.7 L268.1,163.9 L266.9,164.2 L265.7,164.5 L264.5,164.8 L263.4,165.0 L262.2,165.3 L261.0,165.5 L259.8,165.8 L258.6,166.0 L257.4,166.3 L256.2,166.6 L255.1,166.8 L253.9,167.1 L252.7,167.4 L251.6,167.6 L250.4,167.9 L249.3,168.2 L248.1,168.5 L247.0,168.8 L245.8,169.1 L244.7,169.3 L243.5,169.6 L242.4,169.9 L241.2,170.2 L240.1,170.5 L238.9,170.7 L237.7,171.0 L236.6,171.2 L235.4,171.5 L234.2,171.7 L233.0,172.0 L231.8,172.2 L230.5,172.4 L229.3,172.6 L228.1,172.8 L226.8,173.0 L225.5,173.2 L224.3,173.4 L223.0,173.6 L221.7,173.8 L220.5,174.0 L219.3,174.3 L218.1,174.6 L216.9,174.9 L215.8,175.3 L214.8,175.8 L213.8,176.4 L212.8,177.0 L212.0,177.7 L211.2,178.5 L210.5,179.4 L209.8,180.3 L209.2,181.3 L208.6,182.3 L208.1,183.4 L207.6,184.5 L207.1,185.7 L206.6,186.8 L206.2,188.0 L205.8,189.2 L205.4,190.4 L205.0,191.6 L204.6,192.7 L204.3,193.9 L203.9,195.1 L203.6,196.2 L203.2,197.4 L202.9,198.5 L202.5,199.7 L202.2,200.8 L201.9,202.0 L201.6,203.1 L201.3,204.3 L201.0,205.4 L200.7,206.6 L200.4,207.7 L200.2,208.9 L199.9,210.1 L199.7,211.2 L199.4,212.4 L199.1,213.5 L198.9,214.7 L198.7,215.9 L198.4,217.1 L198.2,218.2 L198.0,219.4 L197.8,220.6 L197.6,221.8 L197.4,223.0 L197.1,224.2 L196.9,225.4 L196.7,226.6 L196.5,227.8 L196.4,229.0 L196.2,230.2 L196.0,231.4 L195.8,232.6 L195.6,233.8 L195.4,235.1 L195.2,236.3 L195.0,237.5 L194.9,238.7 L194.7,239.9 L194.5,241.1 L194.3,242.3 L194.1,243.5 L193.9,244.7 L193.8,245.9 L193.6,247.1 L193.4,248.3 L193.2,249.5 L193.0,250.7 L192.8,251.9 L192.6,253.1 L192.4,254.3 L192.2,255.5 L192.0,256.6 L191.8,257.8 L191.5,259.0 L191.3,260.2 L191.1,261.3 L190.8,262.5 L190.6,263.6 L190.4,264.8 L190.1,265.9 L189.8,267.0 L189.6,268.2 L189.3,269.3 L189.1,270.4 L188.8,271.6 L188.5,272.7 L188.3,273.8 L188.0,275.0 L187.8,276.2 L187.5,277.4 L187.3,278.6 L187.1,279.8 L186.9,281.0 L186.7,282.2 L186.5,283.5 L186.3,284.8 L186.2,286.1 L186.0,287.4 L185.8,288.7 L185.6,290.0 L185.4,291.3 L185.2,292.6 L185.0,293.9 L184.7,295.1 L184.4,296.3 L184.0,297.4 L183.6,298.6 L183.1,299.6 L182.6,300.6 L182.0,301.6 L181.4,302.4 L180.7,303.2 L179.9,304.0 L179.0,304.6 L178.0,305.1 L177.0,305.4 L176.0,305.6 L175.0,305.5 L174.0,305.2 L173.0,304.8 L172.0,304.2 L171.2,303.5 L170.3,302.7 L169.5,301.8 L168.7,300.9 L168.0,299.9 L167.2,298.8 L166.5,297.8 L165.7,296.8 L165.0,295.8 L164.2,294.8 L163.4,293.8 L162.7,292.8 L161.9,291.8 L161.1,290.8 L160.3,289.9 L159.5,288.9 L158.7,287.9 L157.9,287.0 L157.1,286.0 L156.3,285.1 L155.5,284.2 L154.7,283.3 L153.8,282.4 L153.0,281.5 L152.2,280.6 L151.3,279.7 L150.5,278.8 L149.6,278.0 L148.8,277.1 L147.9,276.3 L147.0,275.5 L146.1,274.7 L145.2,273.9 L144.3,273.1 L143.4,272.3 L142.5,271.5 L141.6,270.8 L140.6,270.1 L139.7,269.4 L138.7,268.7 L137.8,268.0 L136.8,267.3 L135.8,266.6 L134.8,266.0 L133.8,265.4 L132.8,264.8 L131.8,264.2 L130.8,263.6 L129.7,263.0 L128.7,262.5 L127.6,262.0 L126.5,261.5 L125.4,261.0 L124.4,260.5 L123.2,260.1 L122.1,259.6 L121.0,259.2 L119.9,258.8 L118.7,258.5 L117.5,258.1 L116.3,257.8 L115.2,257.5 L114.0,257.2 L112.7,256.9 L111.5,256.7" fill="none" stroke="#800080" stroke-width="1.8" stroke-linejoin="round" stroke-linecap="round"/>
<g stroke="#000" stroke-width="2" fill="none">
<line x1="404.5" y1="5.05" x2="404.5" y2="315.0"/>
<line x1="403.5" y1="314.0" x2="700" y2="314.0"/>
<line x1="399" y1="5.8" x2="404.5" y2="5.8"/>
<line x1="399" y1="67.5" x2="404.5" y2="67.5"/>
<line x1="399" y1="129.1" x2="404.5" y2="129.1"/>
<line x1="399" y1="190.7" x2="404.5" y2="190.7"/>
<line x1="399" y1="252.4" x2="404.5" y2="252.4"/>
<line x1="399" y1="314.0" x2="404.5" y2="314.0"/>
<line x1="404.5" y1="314.0" x2="404.5" y2="318.9"/>
<line x1="437.2" y1="314.0" x2="437.2" y2="318.9"/>
<line x1="470.0" y1="314.0" x2="470.0" y2="318.9"/>
<line x1="502.7" y1="314.0" x2="502.7" y2="318.9"/>
<line x1="535.4" y1="314.0" x2="535.4" y2="318.9"/>
<line x1="568.1" y1="314.0" x2="568.1" y2="318.9"/>
<line x1="600.9" y1="314.0" x2="600.9" y2="318.9"/>
<line x1="633.6" y1="314.0" x2="633.6" y2="318.9"/>
<line x1="666.3" y1="314.0" x2="666.3" y2="318.9"/>
<line x1="699.1" y1="314.0" x2="699.1" y2="318.9"/>
</g>
<g font-family='"Liberation Serif", serif' font-weight="bold" font-size="11.8" fill="#000">
<text x="394.4" y="9.8" text-anchor="end">80</text>
<text x="394.4" y="71.5" text-anchor="end">60</text>
<text x="394.4" y="133.1" text-anchor="end">40</text>
<text x="394.4" y="194.7" text-anchor="end">20</text>
<text x="394.4" y="256.4" text-anchor="end">0</text>
<text x="394.4" y="318.0" text-anchor="end">-20</text>
<text x="404.5" y="334.5" text-anchor="middle">-0.2</text>
<text x="437.2" y="334.5" text-anchor="middle">0.0</text>
<text x="470.0" y="334.5" text-anchor="middle">0.2</text>
<text x="502.7" y="334.5" text-anchor="middle">0.4</text>
<text x="535.4" y="334.5" text-anchor="middle">0.6</text>
<text x="568.1" y="334.5" text-anchor="middle">0.8</text>
<text x="600.9" y="334.5" text-anchor="middle">1.0</text>
<text x="633.6" y="334.5" text-anchor="middle">1.2</text>
<text x="666.3" y="334.5" text-anchor="middle">1.4</text>
<text x="699.1" y="334.5" text-anchor="middle">1.6</text>
</g>
<text x="546.6" y="358.7" text-anchor="middle" font-family='"Liberation Serif", serif' font-weight="bold" font-size="15">E/V(vs Ag/AgCl)</text>
<text transform="translate(364.6,159.5) rotate(-90)" text-anchor="middle" font-family='"Liberation Serif", serif' font-weight="bold" font-size="14">I/ µA</text>
<text x="420.6" y="25.7" font-family='"Liberation Sans", sans-serif' font-weight="bold" font-size="16">B</text>
<line x1="444.2" y1="74.4" x2="472" y2="74.4" stroke="#800000" stroke-width="1.6"/>
<text x="478.9" y="78.6" font-family='"Liberation Serif", serif' font-weight="bold" font-size="11.8">Blank</text>
<line x1="444.2" y1="89.4" x2="472" y2="89.4" stroke="#008000" stroke-width="2.2"/>
<text x="478.9" y="93.6" font-family='"Liberation Serif", serif' font-weight="bold" font-size="11.8">Bare CPE</text>
<line x1="444.2" y1="104.4" x2="472" y2="104.4" stroke="#ff8000" stroke-width="2.2"/>
<text x="478.9" y="108.6" font-family='"Liberation Serif", serif' font-weight="bold" font-size="11.8">Ti/CPE</text>
<line x1="444.2" y1="119.4" x2="472" y2="119.4" stroke="#3333ff" stroke-width="2.2"/>
<text x="478.9" y="123.6" font-family='"Liberation Serif", serif' font-weight="bold" font-size="11.8">IL/CPE</text>
<line x1="444.2" y1="134.4" x2="472" y2="134.4" stroke="#800080" stroke-width="2.2"/>
<text x="478.9" y="138.6" font-family='"Liberation Serif", serif' font-weight="bold" font-size="11.8">Ti-IL/CPE</text>
<path d="M437.6,258.3 L438.6,257.5 L439.6,256.8 L440.7,256.3 L441.8,255.8 L443.0,255.4 L444.2,255.2 L445.4,254.9 L446.6,254.8 L447.9,254.7 L449.1,254.6 L450.4,254.6 L451.7,254.6 L453.0,254.6 L454.3,254.7 L455.6,254.7 L456.9,254.7 L458.2,254.7 L459.5,254.8 L460.8,254.8 L462.1,254.7 L463.4,254.7 L464.6,254.7 L465.9,254.7 L467.2,254.6 L468.4,254.6 L469.7,254.5 L471.0,254.4 L472.2,254.3 L473.5,254.2 L474.7,254.1 L476.0,254.0 L477.2,253.8 L477.6,251.9 L478.8,251.8 L480.0,251.7 L481.2,251.7 L482.4,251.6 L483.7,251.5 L484.9,251.4 L486.1,251.4 L487.3,251.3 L488.5,251.2 L489.7,251.2 L490.9,251.1 L492.1,251.1 L493.4,251.0 L494.6,250.9 L495.8,250.9 L497.0,250.8 L498.2,250.8 L499.4,250.7 L500.6,250.7 L501.8,250.7 L503.1,250.6 L504.3,250.6 L505.5,250.5 L506.7,250.5 L507.9,250.5 L509.1,250.4 L510.3,250.4 L511.6,250.3 L512.8,250.3 L514.0,250.3 L515.2,250.2 L516.4,250.2 L517.6,250.2 L518.8,250.1 L520.1,250.1 L521.3,250.0 L522.5,250.0 L523.7,250.0 L524.9,249.9 L526.1,249.9 L527.3,249.9 L528.6,249.8 L529.8,249.8 L531.0,249.7 L532.2,249.7 L533.4,249.6 L534.6,249.6 L535.8,249.6 L537.1,249.5 L538.3,249.5 L539.5,249.4 L540.7,249.3 L541.9,249.3 L543.1,249.2 L544.3,249.2 L545.5,249.1 L546.8,249.1 L548.0,249.0 L549.2,248.9 L550.4,248.9 L551.6,248.8 L552.8,248.7 L554.0,248.6 L555.2,248.5 L556.4,248.5 L557.6,248.4 L558.9,248.3 L560.1,248.2 L561.3,248.1 L562.5,248.0 L563.7,247.9 L564.9,247.8 L566.1,247.7 L567.3,247.6 L568.5,247.4 L569.7,247.3 L570.9,247.2 L572.1,247.0 L573.3,246.9 L574.5,246.8 L575.7,246.6 L577.0,246.5 L578.2,246.3 L579.4,246.1 L580.6,245.9 L581.7,245.8 L582.9,245.6 L584.1,245.4 L585.3,245.2 L586.5,245.0 L587.7,244.7 L588.9,244.5 L590.1,244.3 L591.3,244.0 L592.5,243.8 L593.7,243.5 L594.9,243.3 L596.1,243.0 L597.2,242.7 L598.4,242.4 L599.6,242.1 L600.8,241.8 L602.0,241.5 L603.1,241.1 L604.3,240.8 L605.5,240.5 L606.6,240.1 L607.8,239.8 L609.0,239.4 L610.1,239.0 L611.3,238.6 L612.5,238.2 L613.6,237.8 L614.7,237.4 L615.9,237.0 L617.0,236.5 L618.1,236.0 L619.2,235.5 L620.3,235.0 L621.3,234.4 L622.4,233.8 L623.4,233.2 L624.4,232.6 L625.4,231.9 L626.4,231.2 L627.3,230.4 L628.2,229.6 L629.2,228.9 L630.1,228.0 L630.9,227.2 L631.8,226.4 L632.7,225.5 L633.5,224.6 L634.3,223.7 L635.1,222.8 L635.9,221.8 L636.7,220.9 L637.4,219.9 L638.2,218.9 L638.9,218.0 L639.6,217.0 L640.3,216.0 L641.0,215.0 L641.7,213.9 L642.4,212.9 L643.0,211.9 L643.6,210.8 L644.3,209.8 L644.9,208.7 L645.4,207.7 L646.0,206.6 L646.5,205.5 L647.1,204.4 L647.6,203.3 L648.1,202.2 L648.5,201.1 L649.0,200.0 L648.9,201.2 L648.7,202.4 L648.6,203.6 L648.5,204.8 L648.4,206.0 L648.2,207.2 L648.1,208.4 L648.0,209.6 L647.9,210.8 L647.7,212.0 L647.5,213.2 L647.4,214.4 L647.1,215.6 L646.9,216.7 L646.6,217.9 L646.4,219.1 L646.0,220.2 L645.7,221.4 L645.3,222.5 L644.8,223.6 L644.4,224.7 L643.9,225.8 L643.3,226.9 L642.8,228.0 L642.2,229.0 L641.6,230.1 L641.0,231.1 L640.3,232.1 L639.6,233.1 L638.9,234.1 L638.1,235.1 L637.4,236.0 L636.6,237.0 L635.8,237.9 L634.9,238.7 L634.0,239.6 L633.2,240.4 L632.3,241.2 L631.3,242.0 L630.4,242.7 L629.4,243.5 L628.4,244.2 L627.4,244.8 L626.4,245.5 L625.4,246.1 L624.3,246.7 L623.3,247.2 L622.2,247.8 L621.1,248.2 L620.0,248.7 L618.9,249.1 L617.8,249.6 L616.6,249.9 L615.5,250.3 L614.3,250.6 L613.2,250.9 L612.0,251.2 L610.8,251.5 L609.7,251.7 L608.5,251.9 L607.3,252.2 L606.1,252.4 L604.9,252.6 L603.7,252.7 L602.5,252.9 L601.3,253.1 L600.1,253.2 L598.9,253.4 L597.7,253.5 L596.5,253.7 L595.3,253.8 L594.1,254.0 L592.9,254.1 L591.6,254.2 L590.4,254.3 L589.2,254.5 L588.0,254.6 L586.8,254.7 L585.6,254.8 L584.4,254.9 L583.2,255.0 L582.0,255.1 L580.8,255.2 L579.6,255.3 L578.4,255.4 L577.2,255.5 L576.0,255.6 L574.8,255.7 L573.6,255.7 L572.4,255.8 L571.2,255.9 L570.0,256.0 L568.8,256.0 L567.6,256.1 L566.4,256.2 L565.2,256.2 L564.0,256.3 L562.8,256.3 L561.6,256.4 L560.4,256.4 L559.1,256.5 L557.9,256.5 L556.7,256.6 L555.5,256.6 L554.3,256.6 L553.1,256.7 L551.9,256.7 L550.7,256.8 L549.5,256.8 L548.3,256.8 L547.1,256.9 L545.9,256.9 L544.7,256.9 L543.5,256.9 L542.3,257.0 L541.1,257.0 L539.9,257.0 L538.7,257.0 L537.5,257.0 L536.3,257.1 L535.1,257.1 L533.9,257.1 L532.7,257.1 L531.5,257.1 L530.3,257.1 L529.1,257.2 L527.8,257.2 L526.6,257.2 L525.4,257.2 L524.2,257.2 L523.0,257.2 L521.8,257.2 L520.6,257.2 L519.4,257.2 L518.2,257.3 L517.0,257.3 L515.8,257.3 L514.6,257.3 L513.4,257.3 L512.2,257.3 L511.0,257.3 L509.8,257.3 L508.6,257.3 L507.4,257.4 L506.2,257.4 L504.9,257.4 L503.7,257.4 L502.5,257.4 L501.3,257.4 L500.1,257.4 L498.9,257.5 L497.7,257.5 L496.5,257.5 L495.3,257.5 L494.1,257.5 L492.9,257.6 L491.7,257.6 L490.5,257.6 L489.3,257.7 L488.1,257.7 L486.8,257.7 L485.6,257.7 L484.4,257.8 L483.2,257.8 L482.0,257.8 L480.8,257.9 L479.6,257.9 L478.4,258.0 L477.2,258.0 L476.0,258.0 L474.8,258.1 L473.6,258.1 L472.4,258.2 L471.1,258.2 L469.9,258.2 L468.7,258.3 L467.5,258.3 L466.3,258.4 L465.1,258.4 L463.9,258.5 L462.7,258.5 L461.5,258.6 L460.3,258.6 L459.1,258.6 L457.9,258.7 L456.7,258.7 L455.5,258.8 L454.2,258.8 L453.0,258.9 L451.8,258.9 L450.6,259.0 L449.4,259.0 L448.2,259.1 L447.0,259.1 L445.8,259.1 L444.6,259.1 L443.4,259.1 L442.2,259.0 L441.1,258.9 L439.9,258.8 L438.7,258.6 L437.6,258.3" fill="none" stroke="#800000" stroke-width="2.0" stroke-linejoin="round" stroke-linecap="round"/>
<path d="M437.5,259.5 L438.7,259.1 L439.9,258.8 L441.1,258.4 L442.3,258.2 L443.5,257.9 L444.7,257.7 L445.9,257.5 L447.1,257.4 L448.3,257.2 L449.6,257.1 L450.8,257.1 L452.1,257.0 L453.3,257.0 L454.6,257.0 L455.8,257.0 L457.1,257.0 L458.3,257.0 L459.6,257.1 L460.8,257.1 L462.1,257.2 L463.4,257.3 L464.6,257.4 L465.9,257.5 L467.2,257.5 L468.4,257.6 L469.7,257.7 L471.0,257.8 L472.2,257.9 L473.5,258.0 L474.8,258.0 L476.0,258.1 L477.3,258.2 L478.5,258.2 L479.8,258.2 L481.0,258.2 L482.3,258.2 L483.5,258.2 L484.8,258.2 L486.0,258.1 L487.2,258.0 L488.5,257.9 L489.7,257.8 L490.9,257.6 L490.9,253.8 L491.5,255.8 L492.8,255.8 L494.0,255.8 L495.3,255.8 L496.5,255.9 L497.8,255.9 L499.0,255.9 L500.2,255.9 L501.5,255.9 L502.7,255.9 L503.9,255.9 L505.2,255.9 L506.4,255.9 L507.6,255.9 L508.8,255.9 L510.0,255.9 L511.3,255.9 L512.5,255.9 L513.7,255.9 L514.9,255.9 L516.1,255.9 L517.3,255.9 L518.5,255.9 L519.7,255.9 L520.9,255.9 L522.1,255.9 L523.3,255.9 L524.5,255.8 L525.6,255.8 L526.8,255.8 L528.0,255.8 L529.2,255.8 L530.4,255.7 L531.6,255.7 L532.8,255.7 L533.9,255.6 L535.1,255.6 L536.3,255.6 L537.5,255.5 L538.7,255.5 L539.8,255.5 L541.0,255.4 L542.2,255.4 L543.4,255.3 L544.6,255.3 L545.7,255.2 L546.9,255.2 L548.1,255.1 L549.3,255.0 L550.5,255.0 L551.6,254.9 L552.8,254.8 L554.0,254.8 L555.2,254.7 L556.4,254.6 L557.6,254.5 L558.7,254.5 L559.9,254.4 L561.1,254.3 L562.3,254.2 L563.5,254.1 L564.7,254.0 L565.9,253.9 L567.1,253.8 L568.3,253.7 L569.5,253.6 L570.7,253.5 L571.9,253.4 L573.1,253.3 L574.3,253.1 L575.5,253.0 L576.7,252.9 L578.0,252.8 L579.2,252.6 L580.4,252.5 L581.6,252.4 L582.9,252.2 L584.1,252.1 L585.3,251.9 L586.6,251.8 L587.8,251.6 L589.1,251.4 L590.3,251.3 L591.6,251.1 L592.8,250.9 L594.1,250.8 L595.3,250.6 L596.6,250.4 L597.9,250.2 L599.1,249.9 L600.3,249.7 L601.5,249.4 L602.7,249.1 L603.9,248.8 L605.0,248.4 L606.1,248.0 L607.1,247.5 L608.2,247.0 L609.1,246.4 L610.1,245.8 L610.9,245.1 L611.7,244.4 L612.5,243.6 L613.2,242.8 L613.9,241.9 L614.5,240.9 L615.1,239.9 L615.7,238.9 L616.2,237.8 L616.7,236.7 L617.2,235.6 L617.6,234.4 L618.1,233.3 L618.5,232.1 L619.0,230.9 L619.4,229.8 L619.9,228.6 L620.3,227.4 L620.8,226.2 L621.3,225.1 L621.8,224.0 L622.3,222.9 L622.9,221.8 L623.5,220.7 L624.1,219.7 L624.8,218.8 L625.5,217.8 L626.3,217.0 L627.1,216.1 L628.0,215.4 L628.9,214.7 L629.9,214.1 L631.0,213.7 L632.1,213.4 L633.2,213.3 L634.4,213.5 L635.6,213.9 L636.8,214.6 L638.0,215.2 L639.2,215.8 L640.4,216.2 L641.5,216.4 L642.6,216.5 L643.7,216.4 L644.8,216.3 L645.9,215.9 L646.9,215.5 L648.0,215.0 L649.0,214.4 L650.0,213.7 L651.0,212.9 L651.9,212.1 L652.9,211.2 L653.7,210.3 L654.6,209.4 L655.4,208.5 L656.2,207.5 L656.9,206.5 L657.6,205.6 L658.2,204.5 L658.8,203.5 L659.4,202.5 L660.0,201.4 L660.5,200.4 L661.0,199.3 L661.5,198.2 L661.9,197.1 L662.3,196.0 L662.7,194.8 L663.1,193.7 L663.4,192.6 L663.8,191.4 L664.1,190.2 L664.4,189.1 L664.6,187.9 L664.9,186.7 L665.2,185.5 L665.4,184.3 L665.6,183.1 L665.9,182.0 L666.1,180.8 L666.3,179.6 L666.5,178.4 L666.7,177.2 L666.9,176.0 L667.1,174.8 L667.3,173.6 L667.5,172.4 L667.4,173.6 L667.4,174.7 L667.3,175.9 L667.3,177.1 L667.2,178.3 L667.2,179.5 L667.2,180.7 L667.1,181.9 L667.1,183.1 L667.0,184.3 L667.0,185.5 L667.0,186.7 L666.9,187.9 L666.9,189.1 L666.8,190.3 L666.8,191.6 L666.7,192.8 L666.6,194.0 L666.6,195.2 L666.5,196.4 L666.4,197.6 L666.3,198.9 L666.2,200.1 L666.1,201.3 L666.0,202.5 L665.9,203.7 L665.7,204.9 L665.6,206.1 L665.4,207.4 L665.3,208.6 L665.1,209.8 L664.9,211.0 L664.7,212.2 L664.5,213.4 L664.2,214.6 L664.0,215.7 L663.7,216.9 L663.4,218.1 L663.1,219.3 L662.8,220.5 L662.4,221.6 L662.1,222.8 L661.7,223.9 L661.3,225.1 L660.9,226.2 L660.4,227.3 L660.0,228.4 L659.5,229.5 L659.0,230.6 L658.4,231.7 L657.9,232.7 L657.3,233.8 L656.6,234.8 L656.0,235.8 L655.3,236.7 L654.6,237.7 L653.9,238.6 L653.1,239.5 L652.3,240.4 L651.5,241.2 L650.6,242.1 L649.8,242.9 L648.9,243.7 L648.0,244.4 L647.0,245.2 L646.1,245.9 L645.1,246.6 L644.1,247.2 L643.1,247.9 L642.0,248.5 L641.0,249.1 L639.9,249.7 L638.8,250.2 L637.7,250.8 L636.6,251.3 L635.5,251.8 L634.4,252.2 L633.3,252.7 L632.1,253.1 L631.0,253.5 L629.8,253.8 L628.6,254.2 L627.5,254.5 L626.3,254.8 L625.1,255.1 L623.9,255.4 L622.8,255.6 L621.6,255.9 L620.4,256.1 L619.2,256.3 L618.0,256.5 L616.8,256.7 L615.6,256.8 L614.4,257.0 L613.2,257.1 L612.0,257.3 L610.8,257.4 L609.6,257.6 L608.4,257.7 L607.2,257.8 L606.0,257.9 L604.8,258.0 L603.6,258.1 L602.4,258.3 L601.2,258.4 L600.0,258.5 L598.8,258.5 L597.6,258.6 L596.4,258.7 L595.2,258.8 L594.0,258.9 L592.8,259.0 L591.6,259.0 L590.4,259.1 L589.2,259.2 L587.9,259.2 L586.7,259.3 L585.5,259.3 L584.3,259.4 L583.1,259.4 L581.9,259.5 L580.7,259.5 L579.5,259.6 L578.3,259.6 L577.1,259.6 L575.9,259.7 L574.7,259.7 L573.5,259.7 L572.3,259.8 L571.1,259.8 L569.9,259.8 L568.7,259.8 L567.5,259.8 L566.3,259.9 L565.1,259.9 L563.9,259.9 L562.7,259.9 L561.5,259.9 L560.3,259.9 L559.1,259.9 L557.9,259.9 L556.7,259.9 L555.5,259.9 L554.2,259.9 L553.0,259.9 L551.8,259.9 L550.6,259.9 L549.4,259.9 L548.2,259.9 L547.0,259.9 L545.8,259.9 L544.6,259.9 L543.4,259.9 L542.2,259.9 L541.0,259.9 L539.8,259.9 L538.6,259.9 L537.4,259.9 L536.2,259.9 L535.0,259.9 L533.8,259.9 L532.5,259.9 L531.3,259.8 L530.1,259.8 L528.9,259.8 L527.7,259.8 L526.5,259.8 L525.3,259.8 L524.1,259.8 L522.9,259.8 L521.7,259.8 L520.5,259.8 L519.3,259.8 L518.1,259.8 L516.8,259.8 L515.6,259.8 L514.4,259.8 L513.2,259.8 L512.0,259.8 L510.8,259.9 L509.6,259.9 L508.4,259.9 L507.2,259.9 L506.0,259.9 L504.8,259.9 L503.5,260.0 L502.3,260.0 L501.1,260.0 L499.9,260.0 L498.7,260.1 L497.5,260.1 L496.3,260.1 L495.1,260.2 L493.9,260.2 L492.6,260.2 L491.4,260.3 L490.2,260.3 L489.0,260.4 L487.8,260.4 L486.6,260.4 L485.4,260.5 L484.2,260.5 L483.0,260.6 L481.7,260.6 L480.5,260.6 L479.3,260.7 L478.1,260.7 L476.9,260.7 L475.7,260.8 L474.5,260.8 L473.3,260.8 L472.1,260.8 L470.9,260.9 L469.7,260.9 L468.5,260.9 L467.3,260.9 L466.1,260.9 L464.9,260.9 L463.7,260.9 L462.5,260.9 L461.3,260.9 L460.1,260.9 L458.9,260.9 L457.7,260.9 L456.5,260.8 L455.3,260.8 L454.1,260.8 L452.9,260.7 L451.7,260.7 L450.5,260.6 L449.3,260.6 L448.1,260.5 L446.9,260.4 L445.8,260.3 L444.6,260.2 L443.4,260.1 L442.2,260.0 L441.0,259.9 L439.9,259.8 L438.7,259.6 L437.5,259.5" fill="none" stroke="#008000" stroke-width="2.2" stroke-linejoin="round" stroke-linecap="round"/>
<path d="M437.5,263.5 L438.6,263.1 L439.8,262.8 L440.9,262.5 L442.1,262.2 L443.2,262.0 L444.4,261.7 L445.6,261.6 L446.8,261.4 L448.0,261.2 L449.2,261.1 L450.4,261.0 L451.6,260.9 L452.8,260.8 L454.1,260.8 L455.3,260.7 L456.5,260.7 L457.8,260.7 L459.0,260.7 L460.3,260.7 L461.5,260.7 L462.8,260.7 L464.0,260.8 L465.3,260.8 L466.5,260.9 L467.8,260.9 L469.0,260.9 L470.3,261.0 L471.6,261.0 L472.8,261.1 L474.1,261.1 L475.3,261.1 L476.6,261.1 L477.8,261.2 L479.0,261.2 L480.3,261.2 L481.5,261.1 L482.7,261.1 L484.0,261.1 L485.2,261.0 L486.4,260.9 L487.6,260.8 L488.8,260.7 L490.0,260.6 L490.0,256.4 L490.5,258.5 L491.7,258.5 L493.0,258.6 L494.2,258.6 L495.4,258.6 L496.6,258.6 L497.9,258.7 L499.1,258.7 L500.3,258.7 L501.5,258.7 L502.7,258.7 L504.0,258.7 L505.2,258.8 L506.4,258.8 L507.6,258.8 L508.8,258.8 L510.0,258.8 L511.2,258.8 L512.4,258.8 L513.6,258.7 L514.8,258.7 L516.1,258.7 L517.3,258.7 L518.5,258.7 L519.7,258.7 L520.9,258.7 L522.1,258.6 L523.3,258.6 L524.5,258.6 L525.7,258.6 L526.9,258.5 L528.1,258.5 L529.3,258.4 L530.4,258.4 L531.6,258.4 L532.8,258.3 L534.0,258.3 L535.2,258.2 L536.4,258.2 L537.6,258.1 L538.8,258.1 L540.0,258.0 L541.2,257.9 L542.4,257.9 L543.6,257.8 L544.8,257.7 L546.0,257.7 L547.2,257.6 L548.4,257.5 L549.6,257.4 L550.8,257.4 L552.0,257.3 L553.2,257.2 L554.4,257.1 L555.6,257.0 L556.8,256.9 L558.0,256.8 L559.2,256.7 L560.4,256.6 L561.6,256.5 L562.8,256.4 L564.0,256.3 L565.2,256.2 L566.4,256.1 L567.7,255.9 L568.9,255.8 L570.1,255.7 L571.3,255.6 L572.5,255.4 L573.7,255.3 L575.0,255.2 L576.2,255.0 L577.4,254.9 L578.6,254.8 L579.9,254.6 L581.1,254.5 L582.3,254.3 L583.5,254.1 L584.7,253.9 L585.9,253.7 L587.2,253.5 L588.4,253.3 L589.5,253.1 L590.7,252.8 L591.9,252.5 L593.1,252.2 L594.2,251.9 L595.4,251.6 L596.5,251.2 L597.7,250.8 L598.8,250.4 L599.9,249.9 L600.9,249.5 L602.0,249.0 L603.1,248.4 L604.1,247.8 L605.1,247.2 L606.1,246.6 L607.0,245.9 L607.9,245.1 L608.7,244.2 L609.4,243.3 L610.0,242.3 L610.6,241.2 L611.2,240.1 L611.6,239.0 L612.1,237.9 L612.6,236.8 L613.1,235.7 L613.5,234.6 L614.0,233.5 L614.4,232.4 L614.8,231.3 L615.3,230.2 L615.7,229.1 L616.0,227.9 L616.4,226.8 L616.7,225.6 L617.1,224.4 L617.4,223.2 L617.7,222.0 L618.1,220.8 L618.4,219.5 L618.7,218.3 L619.0,217.1 L619.3,215.9 L619.6,214.6 L620.0,213.4 L620.3,212.2 L620.7,211.0 L621.1,209.9 L621.5,208.7 L621.9,207.5 L622.3,206.4 L622.8,205.3 L623.3,204.2 L623.8,203.2 L624.3,202.2 L624.9,201.2 L625.5,200.2 L626.2,199.3 L626.9,198.5 L627.7,197.9 L628.6,197.4 L629.5,197.2 L630.6,197.1 L631.7,197.2 L632.9,197.5 L634.1,197.8 L635.3,198.2 L636.5,198.6 L637.7,198.9 L638.9,199.1 L640.1,199.2 L641.3,199.3 L642.4,199.1 L643.5,198.9 L644.5,198.4 L645.5,197.8 L646.4,197.1 L647.3,196.2 L648.2,195.2 L649.0,194.3 L649.7,193.3 L650.5,192.3 L651.2,191.3 L651.9,190.3 L652.5,189.2 L653.1,188.2 L653.7,187.1 L654.2,186.1 L654.7,185.0 L655.2,183.9 L655.7,182.8 L656.1,181.7 L656.5,180.6 L656.9,179.4 L657.2,178.3 L657.6,177.2 L657.9,176.0 L658.2,174.8 L658.4,173.7 L658.7,172.5 L658.9,171.3 L659.2,170.1 L659.4,168.9 L659.5,167.7 L659.7,166.5 L659.9,165.3 L660.0,164.1 L660.2,162.9 L660.3,161.7 L660.4,160.5 L660.5,159.2 L660.6,158.0 L660.7,156.8 L660.8,155.6 L660.9,154.3 L661.0,153.1 L661.0,151.9 L661.1,150.7 L661.2,149.4 L661.3,148.2 L661.3,147.0 L661.4,145.8 L661.5,144.6 L661.6,143.4 L661.7,142.2 L661.8,141.0 L661.9,139.8 L662.0,138.6 L662.1,137.4 L662.2,136.2 L662.4,135.0 L662.5,133.9 L662.7,132.7 L662.6,133.9 L662.6,135.2 L662.6,136.4 L662.5,137.6 L662.5,138.8 L662.4,140.1 L662.4,141.3 L662.3,142.5 L662.3,143.7 L662.3,144.9 L662.2,146.1 L662.2,147.3 L662.2,148.6 L662.2,149.8 L662.1,151.0 L662.1,152.2 L662.1,153.4 L662.0,154.6 L662.0,155.8 L662.0,157.0 L662.0,158.2 L661.9,159.4 L661.9,160.6 L661.9,161.8 L661.8,163.0 L661.8,164.2 L661.8,165.4 L661.7,166.5 L661.7,167.7 L661.7,168.9 L661.6,170.1 L661.6,171.3 L661.5,172.5 L661.5,173.7 L661.4,174.9 L661.4,176.1 L661.3,177.3 L661.3,178.5 L661.2,179.7 L661.2,180.9 L661.1,182.1 L661.0,183.3 L660.9,184.5 L660.9,185.7 L660.8,186.9 L660.7,188.1 L660.6,189.3 L660.5,190.5 L660.4,191.7 L660.3,192.9 L660.2,194.1 L660.1,195.3 L659.9,196.5 L659.8,197.7 L659.7,198.9 L659.5,200.1 L659.4,201.3 L659.2,202.6 L659.1,203.8 L658.9,205.0 L658.7,206.2 L658.5,207.4 L658.3,208.7 L658.1,209.9 L657.9,211.1 L657.7,212.3 L657.4,213.5 L657.2,214.7 L656.9,215.9 L656.6,217.1 L656.3,218.3 L656.0,219.5 L655.6,220.6 L655.3,221.8 L654.9,222.9 L654.5,224.1 L654.0,225.2 L653.6,226.3 L653.1,227.4 L652.6,228.5 L652.1,229.6 L651.5,230.7 L651.0,231.7 L650.4,232.8 L649.8,233.8 L649.1,234.8 L648.5,235.8 L647.8,236.8 L647.1,237.7 L646.4,238.7 L645.7,239.6 L644.9,240.5 L644.1,241.4 L643.3,242.3 L642.5,243.2 L641.7,244.0 L640.8,244.9 L640.0,245.7 L639.1,246.5 L638.2,247.2 L637.3,248.0 L636.3,248.7 L635.4,249.4 L634.4,250.1 L633.4,250.8 L632.4,251.4 L631.4,252.1 L630.3,252.7 L629.3,253.3 L628.2,253.8 L627.1,254.4 L626.0,254.9 L624.9,255.4 L623.8,255.8 L622.6,256.3 L621.5,256.7 L620.3,257.1 L619.2,257.5 L618.0,257.9 L616.8,258.2 L615.6,258.6 L614.4,258.9 L613.2,259.2 L612.0,259.5 L610.8,259.8 L609.6,260.1 L608.4,260.3 L607.2,260.6 L606.0,260.8 L604.8,261.0 L603.6,261.2 L602.4,261.4 L601.2,261.6 L600.0,261.8 L598.8,262.0 L597.6,262.1 L596.4,262.3 L595.2,262.4 L594.0,262.6 L592.8,262.7 L591.6,262.8 L590.4,262.9 L589.3,263.0 L588.1,263.1 L586.9,263.2 L585.7,263.3 L584.5,263.4 L583.3,263.4 L582.1,263.5 L580.9,263.6 L579.7,263.6 L578.5,263.7 L577.3,263.7 L576.1,263.8 L574.9,263.8 L573.7,263.8 L572.5,263.8 L571.3,263.9 L570.1,263.9 L568.9,263.9 L567.7,263.9 L566.5,263.9 L565.3,263.9 L564.1,263.9 L562.9,263.9 L561.7,263.9 L560.5,264.0 L559.3,264.0 L558.1,264.0 L556.9,264.0 L555.7,264.0 L554.5,263.9 L553.3,263.9 L552.1,263.9 L550.9,263.9 L549.7,263.9 L548.4,263.9 L547.2,263.9 L546.0,263.9 L544.8,263.9 L543.6,263.9 L542.4,263.9 L541.2,263.9 L540.0,263.9 L538.8,263.9 L537.6,263.9 L536.3,263.9 L535.1,263.9 L533.9,263.9 L532.7,263.9 L531.5,263.8 L530.3,263.8 L529.1,263.8 L527.9,263.8 L526.6,263.8 L525.4,263.8 L524.2,263.8 L523.0,263.8 L521.8,263.8 L520.6,263.8 L519.4,263.8 L518.2,263.8 L516.9,263.8 L515.7,263.8 L514.5,263.8 L513.3,263.8 L512.1,263.8 L510.9,263.8 L509.7,263.8 L508.5,263.8 L507.2,263.8 L506.0,263.8 L504.8,263.8 L503.6,263.8 L502.4,263.8 L501.2,263.8 L500.0,263.9 L498.8,263.9 L497.6,263.9 L496.3,263.9 L495.1,263.9 L493.9,263.9 L492.7,263.9 L491.5,264.0 L490.3,264.0 L489.1,264.0 L487.9,264.0 L486.7,264.0 L485.5,264.1 L484.3,264.1 L483.1,264.1 L481.9,264.1 L480.7,264.2 L479.5,264.2 L478.2,264.2 L477.0,264.2 L475.8,264.2 L474.6,264.3 L473.4,264.3 L472.2,264.3 L471.0,264.3 L469.8,264.4 L468.6,264.4 L467.4,264.4 L466.2,264.4 L465.0,264.4 L463.8,264.4 L462.6,264.5 L461.4,264.5 L460.2,264.5 L459.0,264.5 L457.7,264.5 L456.5,264.5 L455.3,264.5 L454.1,264.5 L452.9,264.6 L451.7,264.6 L450.5,264.6 L449.3,264.6 L448.1,264.6 L446.9,264.6 L445.7,264.6 L444.5,264.5 L443.3,264.5 L442.1,264.5 L440.9,264.4 L439.7,264.2 L438.6,263.9 L437.5,263.5" fill="none" stroke="#ff8000" stroke-width="2.2" stroke-linejoin="round" stroke-linecap="round"/>
<path d="M437.3,267.4 L438.5,267.1 L439.6,266.7 L440.8,266.4 L442.0,266.2 L443.2,265.9 L444.4,265.7 L445.6,265.5 L446.8,265.3 L448.0,265.2 L449.2,265.0 L450.4,264.9 L451.7,264.8 L452.9,264.7 L454.2,264.7 L455.4,264.6 L456.7,264.6 L457.9,264.5 L459.2,264.5 L460.4,264.5 L461.7,264.5 L463.0,264.5 L464.2,264.5 L465.5,264.5 L466.8,264.5 L468.0,264.5 L469.3,264.5 L470.6,264.5 L471.8,264.5 L473.1,264.5 L474.4,264.5 L475.6,264.5 L476.9,264.5 L478.1,264.5 L479.4,264.5 L480.6,264.5 L481.9,264.4 L483.1,264.4 L484.3,264.3 L485.6,264.2 L486.8,264.1 L488.0,264.0 L488.0,260.5 L489.0,261.6 L490.2,261.4 L491.4,261.3 L492.5,261.2 L493.7,261.0 L494.9,260.9 L496.1,260.9 L497.3,260.8 L498.5,260.7 L499.7,260.6 L500.9,260.6 L502.1,260.6 L503.3,260.5 L504.5,260.5 L505.7,260.5 L506.9,260.5 L508.1,260.5 L509.3,260.5 L510.5,260.5 L511.8,260.5 L513.0,260.6 L514.2,260.6 L515.4,260.6 L516.6,260.7 L517.8,260.7 L519.1,260.8 L520.3,260.8 L521.5,260.9 L522.7,260.9 L524.0,261.0 L525.2,261.0 L526.4,261.1 L527.6,261.1 L528.8,261.2 L530.1,261.2 L531.3,261.3 L532.5,261.3 L533.7,261.4 L534.9,261.4 L536.2,261.4 L537.4,261.4 L538.6,261.5 L539.8,261.5 L541.0,261.5 L542.2,261.5 L543.5,261.5 L544.7,261.5 L545.9,261.5 L547.1,261.4 L548.3,261.4 L549.5,261.3 L550.7,261.3 L551.9,261.2 L553.1,261.1 L554.3,261.0 L555.5,260.9 L556.7,260.8 L557.9,260.7 L559.1,260.5 L560.3,260.4 L561.5,260.2 L562.6,260.0 L563.8,259.8 L565.0,259.6 L566.2,259.4 L567.3,259.1 L568.5,258.8 L569.7,258.5 L570.8,258.2 L572.0,257.9 L573.1,257.6 L574.3,257.2 L575.4,256.8 L576.6,256.4 L577.7,256.0 L578.9,255.5 L580.0,255.1 L581.2,254.6 L582.3,254.2 L583.5,253.8 L584.7,253.4 L585.9,253.1 L587.1,252.8 L588.3,252.4 L589.5,252.1 L590.6,251.8 L591.8,251.4 L592.9,251.0 L594.0,250.6 L595.1,250.0 L596.1,249.4 L597.0,248.7 L597.9,248.0 L598.7,247.1 L599.5,246.2 L600.2,245.3 L600.8,244.3 L601.4,243.3 L602.0,242.2 L602.5,241.1 L602.9,239.9 L603.4,238.8 L603.8,237.6 L604.2,236.4 L604.5,235.2 L604.9,234.0 L605.2,232.9 L605.6,231.7 L606.0,230.5 L606.3,229.4 L606.7,228.3 L607.0,227.1 L607.4,226.0 L607.7,224.9 L608.1,223.8 L608.4,222.7 L608.8,221.6 L609.1,220.5 L609.4,219.3 L609.8,218.2 L610.1,217.0 L610.3,215.9 L610.6,214.7 L610.9,213.5 L611.1,212.2 L611.4,211.0 L611.6,209.8 L611.8,208.5 L612.0,207.3 L612.3,206.0 L612.5,204.8 L612.8,203.5 L613.0,202.3 L613.3,201.1 L613.6,199.8 L613.9,198.6 L614.2,197.4 L614.6,196.3 L615.0,195.1 L615.4,194.0 L615.8,192.9 L616.3,191.9 L616.8,190.9 L617.3,189.9 L617.9,188.9 L618.6,188.1 L619.4,187.5 L620.2,187.1 L621.2,187.0 L622.2,187.3 L623.4,187.7 L624.6,188.2 L625.8,188.6 L627.1,189.0 L628.3,189.2 L629.5,189.3 L630.7,189.3 L631.9,189.2 L633.1,188.9 L634.2,188.6 L635.3,188.2 L636.3,187.7 L637.3,187.1 L638.2,186.4 L639.1,185.7 L639.9,184.9 L640.6,184.1 L641.3,183.1 L641.9,182.2 L642.5,181.2 L643.1,180.1 L643.6,179.0 L644.0,177.9 L644.4,176.8 L644.8,175.6 L645.2,174.4 L645.5,173.1 L645.8,171.9 L646.0,170.6 L646.3,169.3 L646.5,168.1 L646.7,166.8 L646.9,165.5 L647.1,164.2 L647.3,163.0 L647.5,161.7 L647.6,160.5 L647.8,159.3 L648.0,158.0 L648.1,156.8 L648.3,155.6 L648.4,154.4 L648.6,153.2 L648.7,152.0 L648.8,150.8 L648.9,149.6 L649.1,148.4 L649.2,147.3 L649.3,146.1 L649.4,144.9 L649.6,143.7 L649.7,142.6 L649.8,141.4 L649.9,140.3 L650.0,139.1 L650.1,137.9 L650.3,136.8 L650.4,135.6 L650.5,134.5 L650.6,133.3 L650.7,132.1 L650.9,131.0 L651.0,129.8 L651.1,128.6 L651.3,127.5 L651.4,126.3 L651.6,125.1 L651.7,123.9 L651.9,122.7 L652.0,121.5 L652.2,120.3 L652.4,119.1 L652.6,117.9 L652.7,116.7 L652.9,115.5 L653.1,114.2 L653.4,113.0 L653.6,111.8 L653.8,110.5 L653.8,111.7 L653.7,112.9 L653.7,114.1 L653.7,115.3 L653.6,116.5 L653.6,117.7 L653.6,118.9 L653.6,120.1 L653.5,121.3 L653.5,122.5 L653.5,123.7 L653.5,124.9 L653.4,126.1 L653.4,127.3 L653.4,128.6 L653.4,129.8 L653.4,131.0 L653.4,132.2 L653.3,133.4 L653.3,134.6 L653.3,135.8 L653.3,137.0 L653.3,138.2 L653.3,139.4 L653.2,140.6 L653.2,141.8 L653.2,143.0 L653.2,144.2 L653.2,145.4 L653.1,146.6 L653.1,147.8 L653.1,149.0 L653.1,150.3 L653.1,151.5 L653.0,152.7 L653.0,153.9 L653.0,155.1 L652.9,156.3 L652.9,157.5 L652.9,158.7 L652.8,159.9 L652.8,161.1 L652.7,162.3 L652.7,163.5 L652.6,164.7 L652.6,165.9 L652.5,167.1 L652.5,168.3 L652.4,169.5 L652.3,170.7 L652.3,171.9 L652.2,173.1 L652.1,174.3 L652.0,175.5 L651.9,176.7 L651.9,177.9 L651.8,179.1 L651.7,180.3 L651.6,181.5 L651.5,182.7 L651.4,183.9 L651.2,185.1 L651.1,186.3 L651.0,187.5 L650.9,188.7 L650.7,189.9 L650.6,191.1 L650.5,192.3 L650.3,193.5 L650.1,194.7 L650.0,195.9 L649.8,197.0 L649.6,198.2 L649.5,199.4 L649.3,200.6 L649.1,201.8 L648.9,203.0 L648.7,204.2 L648.5,205.4 L648.3,206.6 L648.0,207.8 L647.8,208.9 L647.6,210.1 L647.3,211.3 L647.1,212.5 L646.8,213.7 L646.5,214.8 L646.2,216.0 L645.9,217.2 L645.6,218.3 L645.3,219.5 L644.9,220.7 L644.6,221.8 L644.2,222.9 L643.8,224.1 L643.4,225.2 L643.0,226.3 L642.5,227.4 L642.1,228.5 L641.6,229.6 L641.1,230.7 L640.5,231.8 L640.0,232.9 L639.4,233.9 L638.8,235.0 L638.2,236.0 L637.6,237.0 L636.9,238.0 L636.3,239.0 L635.6,240.0 L634.8,241.0 L634.1,241.9 L633.4,242.8 L632.6,243.8 L631.8,244.7 L631.0,245.6 L630.2,246.4 L629.3,247.3 L628.5,248.1 L627.6,249.0 L626.7,249.8 L625.8,250.5 L624.9,251.3 L623.9,252.0 L623.0,252.8 L622.0,253.5 L621.0,254.2 L620.0,254.8 L619.0,255.5 L618.0,256.1 L617.0,256.7 L615.9,257.2 L614.8,257.8 L613.8,258.3 L612.7,258.9 L611.6,259.4 L610.5,259.8 L609.4,260.3 L608.2,260.8 L607.1,261.2 L606.0,261.6 L604.8,262.0 L603.7,262.4 L602.5,262.8 L601.4,263.1 L600.2,263.5 L599.0,263.8 L597.8,264.1 L596.7,264.4 L595.5,264.7 L594.3,265.0 L593.1,265.2 L591.9,265.5 L590.7,265.7 L589.6,266.0 L588.4,266.2 L587.2,266.4 L586.0,266.6 L584.8,266.8 L583.6,266.9 L582.5,267.1 L581.3,267.2 L580.1,267.3 L578.9,267.4 L577.7,267.5 L576.5,267.6 L575.3,267.6 L574.1,267.7 L572.9,267.7 L571.7,267.7 L570.5,267.7 L569.3,267.6 L568.1,267.6 L566.9,267.5 L565.7,267.5 L564.5,267.4 L563.3,267.4 L562.1,267.4 L560.9,267.3 L559.7,267.3 L558.5,267.3 L557.3,267.2 L556.1,267.2 L554.9,267.2 L553.7,267.2 L552.5,267.1 L551.3,267.1 L550.1,267.1 L548.9,267.1 L547.7,267.1 L546.5,267.1 L545.3,267.1 L544.1,267.1 L542.9,267.0 L541.7,267.0 L540.5,267.0 L539.3,267.0 L538.1,267.1 L536.9,267.1 L535.7,267.1 L534.5,267.1 L533.3,267.1 L532.1,267.1 L530.9,267.1 L529.7,267.1 L528.5,267.1 L527.3,267.2 L526.1,267.2 L524.9,267.2 L523.7,267.2 L522.5,267.3 L521.2,267.3 L520.0,267.3 L518.8,267.4 L517.6,267.4 L516.4,267.4 L515.2,267.5 L514.0,267.5 L512.8,267.5 L511.6,267.6 L510.4,267.6 L509.2,267.6 L508.0,267.7 L506.8,267.7 L505.6,267.7 L504.4,267.8 L503.1,267.8 L501.9,267.9 L500.7,267.9 L499.5,267.9 L498.3,268.0 L497.1,268.0 L495.9,268.1 L494.7,268.1 L493.5,268.1 L492.3,268.2 L491.1,268.2 L489.9,268.2 L488.7,268.3 L487.5,268.3 L486.2,268.3 L485.0,268.4 L483.8,268.4 L482.6,268.4 L481.4,268.5 L480.2,268.5 L479.0,268.5 L477.8,268.6 L476.6,268.6 L475.4,268.6 L474.2,268.6 L473.0,268.6 L471.8,268.7 L470.6,268.7 L469.4,268.7 L468.2,268.7 L467.0,268.7 L465.8,268.7 L464.6,268.7 L463.4,268.7 L462.2,268.7 L461.0,268.7 L459.8,268.7 L458.6,268.7 L457.4,268.7 L456.2,268.7 L455.0,268.7 L453.8,268.7 L452.6,268.6 L451.4,268.6 L450.2,268.6 L449.0,268.6 L447.8,268.5 L446.6,268.5 L445.4,268.4 L444.2,268.4 L443.0,268.3 L441.9,268.3 L440.7,268.1 L439.5,268.0 L438.4,267.7 L437.3,267.4" fill="none" stroke="#3333ff" stroke-width="2.2" stroke-linejoin="round" stroke-linecap="round"/>
<path d="M437.0,303.6 L437.1,302.4 L437.2,301.1 L437.3,299.9 L437.5,298.6 L437.7,297.4 L437.9,296.2 L438.2,294.9 L438.5,293.7 L438.8,292.5 L439.2,291.3 L439.5,290.1 L440.0,288.9 L440.4,287.7 L440.9,286.5 L441.4,285.4 L441.9,284.2 L442.4,283.1 L443.0,282.0 L443.6,280.9 L444.3,279.8 L444.9,278.7 L445.6,277.7 L446.3,276.6 L447.0,275.6 L447.8,274.6 L448.6,273.6 L449.4,272.7 L450.2,271.7 L451.0,270.8 L451.9,269.9 L452.8,269.1 L453.7,268.2 L454.6,267.4 L455.8,267.3 L457.1,267.1 L458.3,267.0 L459.5,266.9 L460.7,266.8 L462.0,266.6 L463.2,266.5 L464.4,266.4 L465.6,266.3 L466.9,266.1 L468.1,266.0 L469.3,265.9 L470.5,265.8 L471.8,265.7 L473.0,265.6 L474.2,265.4 L475.4,265.3 L476.7,265.2 L477.9,265.1 L479.1,265.0 L480.4,264.9 L481.6,264.8 L482.8,264.7 L484.0,264.6 L485.3,264.5 L486.5,264.4 L487.7,264.3 L488.9,264.2 L490.2,264.1 L491.4,264.0 L492.6,263.9 L493.9,263.8 L495.1,263.7 L496.3,263.6 L497.6,263.6 L498.8,263.5 L500.0,263.4 L501.2,263.3 L502.5,263.3 L503.7,263.2 L504.9,263.1 L506.2,263.1 L507.4,263.0 L508.6,262.9 L509.9,262.9 L511.1,262.8 L512.3,262.8 L513.6,262.7 L514.8,262.7 L516.0,262.7 L517.3,262.6 L518.5,262.6 L519.7,262.6 L521.0,262.6 L522.2,262.5 L523.4,262.5 L524.7,262.5 L525.9,262.5 L526.1,264.2 L526.2,264.3 L526.2,263.4 L526.2,262.1 L526.2,260.9 L526.5,260.4 L526.9,261.1 L528.2,261.3 L529.5,261.5 L530.8,261.6 L532.1,261.7 L533.3,261.7 L534.6,261.7 L535.8,261.7 L537.0,261.6 L538.2,261.5 L539.3,261.4 L540.5,261.2 L541.7,261.0 L542.8,260.7 L543.9,260.5 L545.1,260.2 L546.2,259.9 L547.3,259.5 L548.4,259.2 L549.5,258.8 L550.6,258.4 L551.7,258.1 L552.8,257.6 L553.9,257.2 L555.1,256.8 L556.2,256.4 L557.3,256.0 L558.4,255.5 L559.5,255.1 L560.7,254.7 L561.8,254.2 L563.0,253.8 L564.2,253.4 L565.3,253.0 L566.5,252.6 L567.7,252.2 L568.9,251.8 L570.1,251.4 L571.3,251.0 L572.5,250.6 L573.7,250.2 L574.9,249.8 L576.0,249.3 L577.2,248.9 L578.3,248.4 L579.5,248.0 L580.6,247.5 L581.7,247.0 L582.8,246.5 L583.9,245.9 L584.9,245.4 L585.9,244.8 L586.9,244.2 L587.9,243.5 L588.8,242.8 L589.7,242.1 L590.6,241.4 L591.4,240.6 L592.2,239.8 L593.0,239.0 L593.7,238.1 L594.4,237.2 L595.0,236.2 L595.6,235.2 L596.2,234.2 L596.7,233.2 L597.2,232.1 L597.7,231.0 L598.2,229.9 L598.6,228.8 L599.0,227.6 L599.4,226.4 L599.8,225.3 L600.1,224.1 L600.4,222.9 L600.7,221.6 L601.0,220.4 L601.3,219.2 L601.6,217.9 L601.8,216.7 L602.1,215.5 L602.3,214.2 L602.6,213.0 L602.8,211.7 L603.0,210.5 L603.2,209.3 L603.5,208.1 L603.7,206.9 L603.9,205.7 L604.1,204.5 L604.3,203.3 L604.6,202.1 L604.8,200.9 L605.0,199.8 L605.2,198.6 L605.4,197.4 L605.6,196.3 L605.8,195.1 L606.0,194.0 L606.2,192.8 L606.4,191.7 L606.6,190.5 L606.8,189.4 L607.0,188.2 L607.2,187.0 L607.4,185.9 L607.6,184.7 L607.8,183.5 L608.0,182.4 L608.2,181.2 L608.3,180.0 L608.5,178.8 L608.7,177.6 L608.9,176.4 L609.0,175.2 L609.2,174.0 L609.4,172.8 L609.5,171.6 L609.7,170.4 L609.9,169.1 L610.0,167.9 L610.2,166.7 L610.3,165.4 L610.5,164.2 L610.6,162.9 L610.8,161.7 L610.9,160.5 L611.1,159.2 L611.2,158.0 L611.4,156.7 L611.5,155.5 L611.7,154.3 L611.9,153.1 L612.2,151.9 L612.5,150.7 L612.8,149.5 L613.1,148.4 L613.5,147.3 L614.0,146.2 L614.5,145.2 L615.1,144.2 L615.7,143.2 L616.5,142.3 L617.2,141.5 L618.1,140.8 L619.1,140.6 L620.1,140.8 L621.1,141.4 L622.1,142.2 L623.1,143.2 L624.1,144.2 L625.0,145.2 L625.9,146.1 L626.9,146.8 L628.0,147.3 L629.2,147.5 L630.4,147.4 L631.5,147.1 L632.4,146.6 L633.3,146.0 L634.1,145.3 L634.8,144.4 L635.5,143.5 L636.1,142.4 L636.6,141.3 L637.0,140.1 L637.5,138.9 L637.9,137.7 L638.3,136.4 L638.6,135.2 L639.0,134.0 L639.3,132.8 L639.7,131.6 L640.0,130.4 L640.3,129.2 L640.6,128.0 L640.8,126.8 L641.1,125.6 L641.4,124.4 L641.6,123.3 L641.9,122.1 L642.1,120.9 L642.3,119.8 L642.6,118.6 L642.8,117.4 L643.0,116.3 L643.2,115.1 L643.4,113.9 L643.5,112.8 L643.7,111.6 L643.9,110.4 L644.0,109.2 L644.2,108.0 L644.4,106.8 L644.5,105.6 L644.7,104.4 L644.8,103.2 L644.9,102.0 L645.1,100.8 L645.2,99.6 L645.3,98.4 L645.4,97.2 L645.6,96.0 L645.7,94.8 L645.8,93.6 L645.9,92.4 L646.0,91.2 L646.1,90.0 L646.2,88.8 L646.3,87.5 L646.5,86.3 L646.6,85.1 L646.7,83.9 L646.8,82.7 L646.9,81.5 L647.0,80.2 L647.1,79.0 L647.2,77.8 L647.3,76.6 L647.4,75.4 L647.5,74.2 L647.6,73.0 L647.7,71.8 L647.8,70.5 L648.0,69.3 L648.1,68.1 L648.2,66.9 L648.3,65.7 L648.5,64.5 L648.6,63.3 L648.7,62.1 L648.9,60.9 L649.0,59.7 L649.2,58.5 L649.3,57.3 L649.5,56.1 L649.7,55.0 L649.8,53.8 L650.0,52.6 L650.0,53.8 L650.0,55.0 L650.0,56.2 L649.9,57.4 L649.9,58.6 L649.9,59.9 L649.9,61.1 L649.9,62.3 L649.9,63.5 L649.8,64.7 L649.8,65.9 L649.8,67.1 L649.8,68.3 L649.8,69.5 L649.7,70.7 L649.7,71.9 L649.7,73.1 L649.7,74.3 L649.7,75.5 L649.6,76.8 L649.6,78.0 L649.6,79.2 L649.6,80.4 L649.6,81.6 L649.5,82.8 L649.5,84.0 L649.5,85.2 L649.5,86.4 L649.4,87.6 L649.4,88.8 L649.4,90.0 L649.4,91.2 L649.3,92.4 L649.3,93.6 L649.3,94.8 L649.2,96.0 L649.2,97.2 L649.2,98.4 L649.1,99.6 L649.1,100.8 L649.1,102.0 L649.0,103.2 L649.0,104.4 L648.9,105.7 L648.9,106.9 L648.9,108.1 L648.8,109.3 L648.8,110.5 L648.7,111.7 L648.7,112.9 L648.6,114.1 L648.6,115.3 L648.6,116.5 L648.5,117.7 L648.4,118.9 L648.4,120.1 L648.3,121.3 L648.3,122.5 L648.2,123.7 L648.2,124.9 L648.1,126.1 L648.1,127.3 L648.0,128.5 L647.9,129.7 L647.9,130.9 L647.8,132.1 L647.7,133.3 L647.7,134.5 L647.6,135.7 L647.5,136.9 L647.4,138.1 L647.4,139.3 L647.3,140.5 L647.2,141.7 L647.1,142.9 L647.0,144.1 L646.9,145.3 L646.9,146.5 L646.8,147.7 L646.7,148.9 L646.6,150.1 L646.5,151.3 L646.4,152.5 L646.3,153.7 L646.2,154.9 L646.1,156.1 L646.0,157.3 L645.9,158.5 L645.8,159.7 L645.7,160.9 L645.5,162.1 L645.4,163.3 L645.3,164.5 L645.2,165.7 L645.1,166.9 L644.9,168.1 L644.8,169.2 L644.7,170.4 L644.5,171.6 L644.4,172.8 L644.3,174.0 L644.1,175.2 L644.0,176.4 L643.9,177.6 L643.7,178.8 L643.6,180.0 L643.4,181.2 L643.3,182.4 L643.1,183.6 L642.9,184.8 L642.8,186.0 L642.6,187.2 L642.4,188.4 L642.3,189.6 L642.1,190.8 L641.9,192.0 L641.8,193.2 L641.6,194.4 L641.4,195.6 L641.2,196.8 L641.0,198.0 L640.8,199.2 L640.6,200.4 L640.4,201.6 L640.2,202.8 L640.0,204.0 L639.8,205.1 L639.6,206.3 L639.3,207.5 L639.1,208.7 L638.9,209.9 L638.6,211.1 L638.4,212.3 L638.1,213.4 L637.9,214.6 L637.6,215.8 L637.3,217.0 L637.0,218.1 L636.7,219.3 L636.4,220.5 L636.1,221.6 L635.8,222.8 L635.4,224.0 L635.1,225.1 L634.7,226.3 L634.4,227.4 L634.0,228.5 L633.6,229.7 L633.2,230.8 L632.8,231.9 L632.4,233.1 L632.0,234.2 L631.5,235.3 L631.1,236.4 L630.6,237.5 L630.1,238.6 L629.6,239.7 L629.1,240.8 L628.6,241.9 L628.0,243.0 L627.5,244.0 L626.9,245.1 L626.3,246.2 L625.7,247.2 L625.1,248.3 L624.5,249.3 L623.8,250.3 L623.2,251.3 L622.5,252.3 L621.8,253.3 L621.1,254.3 L620.3,255.3 L619.6,256.2 L618.8,257.2 L618.1,258.1 L617.3,259.0 L616.5,259.9 L615.7,260.8 L614.8,261.6 L614.0,262.5 L613.1,263.3 L612.2,264.1 L611.3,264.8 L610.4,265.6 L609.4,266.3 L608.5,267.0 L607.5,267.6 L606.5,268.3 L605.5,268.9 L604.5,269.5 L603.5,270.1 L602.5,270.6 L601.4,271.2 L600.3,271.7 L599.3,272.2 L598.2,272.6 L597.1,273.1 L596.0,273.5 L594.8,273.9 L593.7,274.3 L592.6,274.6 L591.4,275.0 L590.3,275.3 L589.1,275.6 L587.9,275.8 L586.7,276.1 L585.6,276.3 L584.4,276.6 L583.2,276.8 L582.0,277.0 L580.8,277.1 L579.6,277.3 L578.4,277.5 L577.1,277.6 L575.9,277.7 L574.7,277.9 L573.5,278.0 L572.3,278.1 L571.0,278.2 L569.8,278.3 L568.6,278.4 L567.4,278.5 L566.1,278.6 L564.9,278.7 L563.7,278.8 L562.5,278.8 L561.2,278.9 L560.0,279.0 L558.8,279.1 L557.6,279.2 L556.4,279.3 L555.2,279.4 L554.0,279.5 L552.8,279.6 L551.6,279.7 L550.4,279.8 L549.2,279.9 L548.0,280.0 L546.8,280.2 L545.6,280.3 L544.5,280.4 L543.3,280.5 L542.1,280.6 L540.9,280.7 L539.7,280.8 L538.5,280.9 L537.4,281.1 L536.2,281.2 L535.0,281.3 L533.8,281.4 L532.6,281.5 L531.5,281.6 L530.3,281.7 L529.1,281.8 L527.9,281.9 L526.7,282.0 L525.5,282.1 L524.4,282.2 L523.2,282.3 L522.0,282.4 L520.8,282.5 L519.6,282.6 L518.4,282.7 L517.2,282.7 L516.0,282.8 L514.8,282.9 L513.6,283.0 L512.4,283.0 L511.2,283.1 L510.0,283.1 L508.7,283.2 L507.5,283.2 L506.3,283.3 L505.1,283.3 L503.9,283.4 L502.6,283.4 L501.4,283.5 L500.2,283.5 L498.9,283.6 L497.7,283.6 L496.5,283.6 L495.2,283.7 L494.0,283.7 L492.8,283.8 L491.5,283.9 L490.3,283.9 L489.1,284.0 L487.9,284.1 L486.6,284.1 L485.4,284.2 L484.2,284.3 L483.0,284.4 L481.8,284.5 L480.5,284.6 L479.3,284.8 L478.1,284.9 L476.9,285.0 L475.7,285.2 L474.5,285.4 L473.3,285.5 L472.1,285.7 L471.0,285.9 L469.8,286.1 L468.6,286.4 L467.4,286.6 L466.3,286.9 L465.1,287.1 L464.0,287.4 L462.8,287.7 L461.7,288.0 L460.5,288.4 L459.4,288.7 L458.3,289.1 L457.2,289.5 L456.1,289.9 L455.0,290.3 L453.9,290.8 L452.8,291.3 L451.8,291.7 L450.7,292.3 L449.7,292.8 L448.6,293.4 L447.6,294.0 L446.6,294.6 L445.6,295.2 L444.7,295.9 L443.7,296.6 L442.8,297.4 L441.9,298.2 L441.0,299.0 L440.2,299.8 L439.3,300.7 L438.5,301.6 L437.8,302.6 L437.0,303.6" fill="none" stroke="#800080" stroke-width="2.2" stroke-linejoin="round" stroke-linecap="round"/>
</svg></body></html>
